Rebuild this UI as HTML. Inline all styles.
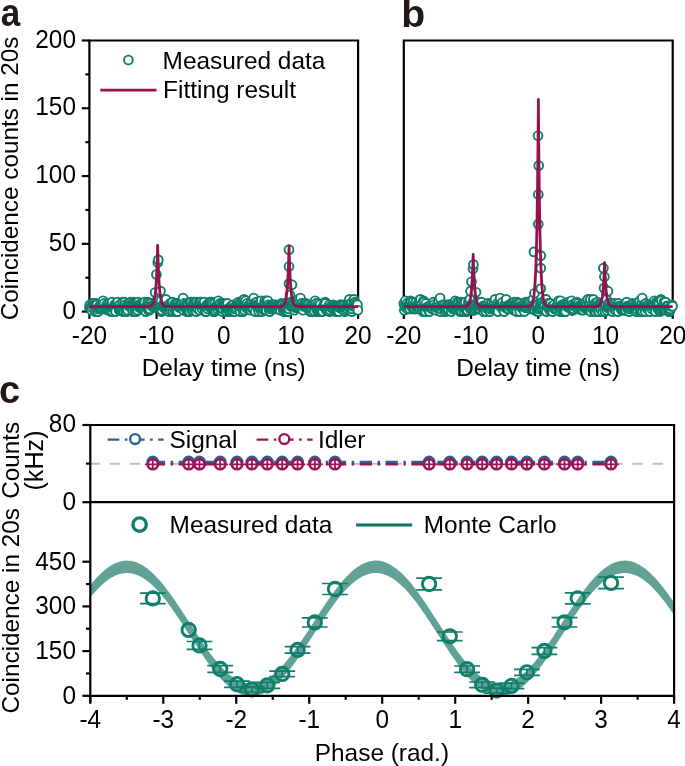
<!DOCTYPE html>
<html><head><meta charset="utf-8"><style>
html,body{margin:0;padding:0;background:#fff;}
svg{display:block;will-change:transform;font-family:"Liberation Sans",sans-serif;}
text{font-family:"Liberation Sans",sans-serif;}
</style></head><body>
<svg width="685" height="766" viewBox="0 0 685 766">
<rect width="685" height="766" fill="#fff"/>
<line x1="81.8" y1="311.6" x2="89.4" y2="311.6" stroke="#000" stroke-width="2.2" />
<text transform="translate(76,318.6) scale(1,1.035)" text-anchor="end" font-size="24.4" fill="#000" font-weight="normal" >0</text>
<line x1="81.8" y1="243.83" x2="89.4" y2="243.83" stroke="#000" stroke-width="2.2" />
<text transform="translate(76,250.83) scale(1,1.035)" text-anchor="end" font-size="24.4" fill="#000" font-weight="normal" >50</text>
<line x1="81.8" y1="176.05" x2="89.4" y2="176.05" stroke="#000" stroke-width="2.2" />
<text transform="translate(76,183.05) scale(1,1.035)" text-anchor="end" font-size="24.4" fill="#000" font-weight="normal" >100</text>
<line x1="81.8" y1="108.28" x2="89.4" y2="108.28" stroke="#000" stroke-width="2.2" />
<text transform="translate(76,115.28) scale(1,1.035)" text-anchor="end" font-size="24.4" fill="#000" font-weight="normal" >150</text>
<line x1="81.8" y1="40.5" x2="89.4" y2="40.5" stroke="#000" stroke-width="2.2" />
<text transform="translate(76,47.5) scale(1,1.035)" text-anchor="end" font-size="24.4" fill="#000" font-weight="normal" >200</text>
<line x1="85.4" y1="277.71" x2="89.4" y2="277.71" stroke="#000" stroke-width="2.2" />
<line x1="85.4" y1="209.94" x2="89.4" y2="209.94" stroke="#000" stroke-width="2.2" />
<line x1="85.4" y1="142.16" x2="89.4" y2="142.16" stroke="#000" stroke-width="2.2" />
<line x1="85.4" y1="74.39" x2="89.4" y2="74.39" stroke="#000" stroke-width="2.2" />
<line x1="89.4" y1="311.6" x2="89.4" y2="318.9" stroke="#000" stroke-width="2.2" />
<text transform="translate(89.4,343.9) scale(1,1.035)" text-anchor="middle" font-size="24.4" fill="#000" font-weight="normal" >-20</text>
<line x1="156.58" y1="311.6" x2="156.58" y2="318.9" stroke="#000" stroke-width="2.2" />
<text transform="translate(156.58,343.9) scale(1,1.035)" text-anchor="middle" font-size="24.4" fill="#000" font-weight="normal" >-10</text>
<line x1="223.75" y1="311.6" x2="223.75" y2="318.9" stroke="#000" stroke-width="2.2" />
<text transform="translate(223.75,343.9) scale(1,1.035)" text-anchor="middle" font-size="24.4" fill="#000" font-weight="normal" >0</text>
<line x1="290.93" y1="311.6" x2="290.93" y2="318.9" stroke="#000" stroke-width="2.2" />
<text transform="translate(290.93,343.9) scale(1,1.035)" text-anchor="middle" font-size="24.4" fill="#000" font-weight="normal" >10</text>
<line x1="358.1" y1="311.6" x2="358.1" y2="318.9" stroke="#000" stroke-width="2.2" />
<text transform="translate(358.1,343.9) scale(1,1.035)" text-anchor="middle" font-size="24.4" fill="#000" font-weight="normal" >20</text>
<line x1="122.99" y1="311.6" x2="122.99" y2="315.8" stroke="#000" stroke-width="2.2" />
<line x1="190.16" y1="311.6" x2="190.16" y2="315.8" stroke="#000" stroke-width="2.2" />
<line x1="257.34" y1="311.6" x2="257.34" y2="315.8" stroke="#000" stroke-width="2.2" />
<line x1="324.51" y1="311.6" x2="324.51" y2="315.8" stroke="#000" stroke-width="2.2" />
<path d="M89.4 311.6 V40.5 H358.1 V311.6 Z" fill="none" stroke="#000" stroke-width="2.2"/>
<text transform="translate(223.75,375.6) scale(1,1.0)" text-anchor="middle" font-size="24.4" fill="#000" font-weight="normal" >Delay time (ns)</text>
<g fill="#fff" stroke="#0f7f6b" stroke-width="1.9"><circle cx="89.4" cy="307.53" r="4.4"/><circle cx="89.9" cy="304.82" r="4.4"/><circle cx="90.41" cy="307.53" r="4.4"/><circle cx="90.91" cy="307.53" r="4.4"/><circle cx="91.42" cy="310.24" r="4.4"/><circle cx="91.92" cy="307.53" r="4.4"/><circle cx="92.42" cy="303.47" r="4.4"/><circle cx="92.93" cy="304.82" r="4.4"/><circle cx="93.43" cy="303.47" r="4.4"/><circle cx="93.93" cy="306.18" r="4.4"/><circle cx="94.44" cy="304.82" r="4.4"/><circle cx="94.94" cy="306.18" r="4.4"/><circle cx="95.45" cy="311.6" r="4.4"/><circle cx="95.95" cy="303.47" r="4.4"/><circle cx="96.45" cy="304.82" r="4.4"/><circle cx="96.96" cy="304.82" r="4.4"/><circle cx="97.46" cy="311.6" r="4.4"/><circle cx="97.96" cy="311.6" r="4.4"/><circle cx="98.47" cy="308.89" r="4.4"/><circle cx="98.97" cy="307.53" r="4.4"/><circle cx="99.48" cy="306.18" r="4.4"/><circle cx="99.98" cy="307.53" r="4.4"/><circle cx="100.48" cy="304.82" r="4.4"/><circle cx="100.99" cy="308.89" r="4.4"/><circle cx="101.49" cy="306.18" r="4.4"/><circle cx="102" cy="304.82" r="4.4"/><circle cx="102.5" cy="308.89" r="4.4"/><circle cx="103" cy="300.76" r="4.4"/><circle cx="103.51" cy="304.82" r="4.4"/><circle cx="104.01" cy="303.47" r="4.4"/><circle cx="104.51" cy="308.89" r="4.4"/><circle cx="105.02" cy="308.89" r="4.4"/><circle cx="105.52" cy="307.53" r="4.4"/><circle cx="106.03" cy="307.53" r="4.4"/><circle cx="106.53" cy="304.82" r="4.4"/><circle cx="107.03" cy="306.18" r="4.4"/><circle cx="107.54" cy="307.53" r="4.4"/><circle cx="108.04" cy="310.24" r="4.4"/><circle cx="108.54" cy="308.89" r="4.4"/><circle cx="109.05" cy="303.47" r="4.4"/><circle cx="109.55" cy="308.89" r="4.4"/><circle cx="110.06" cy="306.18" r="4.4"/><circle cx="110.56" cy="304.82" r="4.4"/><circle cx="111.06" cy="311.6" r="4.4"/><circle cx="111.57" cy="306.18" r="4.4"/><circle cx="112.07" cy="302.11" r="4.4"/><circle cx="112.58" cy="311.6" r="4.4"/><circle cx="113.08" cy="307.53" r="4.4"/><circle cx="113.58" cy="307.53" r="4.4"/><circle cx="114.09" cy="308.89" r="4.4"/><circle cx="114.59" cy="304.82" r="4.4"/><circle cx="115.09" cy="307.53" r="4.4"/><circle cx="115.6" cy="311.6" r="4.4"/><circle cx="116.1" cy="303.47" r="4.4"/><circle cx="116.61" cy="304.82" r="4.4"/><circle cx="117.11" cy="303.47" r="4.4"/><circle cx="117.61" cy="302.11" r="4.4"/><circle cx="118.12" cy="306.18" r="4.4"/><circle cx="118.62" cy="306.18" r="4.4"/><circle cx="119.12" cy="310.24" r="4.4"/><circle cx="119.63" cy="304.82" r="4.4"/><circle cx="120.13" cy="308.89" r="4.4"/><circle cx="120.64" cy="307.53" r="4.4"/><circle cx="121.14" cy="310.24" r="4.4"/><circle cx="121.64" cy="310.24" r="4.4"/><circle cx="122.15" cy="308.89" r="4.4"/><circle cx="122.65" cy="302.11" r="4.4"/><circle cx="123.16" cy="311.6" r="4.4"/><circle cx="123.66" cy="311.6" r="4.4"/><circle cx="124.16" cy="306.18" r="4.4"/><circle cx="124.67" cy="302.11" r="4.4"/><circle cx="125.17" cy="304.82" r="4.4"/><circle cx="125.67" cy="311.6" r="4.4"/><circle cx="126.18" cy="311.6" r="4.4"/><circle cx="126.68" cy="306.18" r="4.4"/><circle cx="127.19" cy="308.89" r="4.4"/><circle cx="127.69" cy="310.24" r="4.4"/><circle cx="128.19" cy="303.47" r="4.4"/><circle cx="128.7" cy="303.47" r="4.4"/><circle cx="129.2" cy="306.18" r="4.4"/><circle cx="129.7" cy="306.18" r="4.4"/><circle cx="130.21" cy="304.82" r="4.4"/><circle cx="130.71" cy="302.11" r="4.4"/><circle cx="131.22" cy="304.82" r="4.4"/><circle cx="131.72" cy="304.82" r="4.4"/><circle cx="132.22" cy="304.82" r="4.4"/><circle cx="132.73" cy="311.6" r="4.4"/><circle cx="133.23" cy="302.11" r="4.4"/><circle cx="133.74" cy="303.47" r="4.4"/><circle cx="134.24" cy="304.82" r="4.4"/><circle cx="134.74" cy="311.6" r="4.4"/><circle cx="135.25" cy="308.89" r="4.4"/><circle cx="135.75" cy="303.47" r="4.4"/><circle cx="136.25" cy="311.6" r="4.4"/><circle cx="136.76" cy="307.53" r="4.4"/><circle cx="137.26" cy="303.47" r="4.4"/><circle cx="137.77" cy="310.24" r="4.4"/><circle cx="138.27" cy="302.11" r="4.4"/><circle cx="138.77" cy="304.82" r="4.4"/><circle cx="139.28" cy="307.53" r="4.4"/><circle cx="139.78" cy="306.18" r="4.4"/><circle cx="140.29" cy="304.82" r="4.4"/><circle cx="140.79" cy="306.18" r="4.4"/><circle cx="141.29" cy="303.47" r="4.4"/><circle cx="141.8" cy="308.89" r="4.4"/><circle cx="142.3" cy="307.53" r="4.4"/><circle cx="142.8" cy="303.47" r="4.4"/><circle cx="143.31" cy="306.18" r="4.4"/><circle cx="143.81" cy="308.89" r="4.4"/><circle cx="144.32" cy="303.47" r="4.4"/><circle cx="144.82" cy="302.11" r="4.4"/><circle cx="145.32" cy="307.53" r="4.4"/><circle cx="145.83" cy="311.6" r="4.4"/><circle cx="146.33" cy="307.53" r="4.4"/><circle cx="146.83" cy="307.53" r="4.4"/><circle cx="147.34" cy="307.53" r="4.4"/><circle cx="147.84" cy="302.11" r="4.4"/><circle cx="148.35" cy="310.24" r="4.4"/><circle cx="148.85" cy="303.47" r="4.4"/><circle cx="149.35" cy="310.24" r="4.4"/><circle cx="149.86" cy="308.89" r="4.4"/><circle cx="150.36" cy="304.82" r="4.4"/><circle cx="150.87" cy="303.47" r="4.4"/><circle cx="151.37" cy="303.47" r="4.4"/><circle cx="151.87" cy="306.18" r="4.4"/><circle cx="152.38" cy="306.18" r="4.4"/><circle cx="152.88" cy="306.18" r="4.4"/><circle cx="153.38" cy="304.82" r="4.4"/><circle cx="153.89" cy="307.53" r="4.4"/><circle cx="154.39" cy="306.18" r="4.4"/><circle cx="154.9" cy="304.82" r="4.4"/><circle cx="155.1" cy="292.5" r="4.4"/><circle cx="155.4" cy="306.18" r="4.4"/><circle cx="155.9" cy="304.82" r="4.4"/><circle cx="156.4" cy="274.5" r="4.4"/><circle cx="156.41" cy="304.82" r="4.4"/><circle cx="156.91" cy="300.76" r="4.4"/><circle cx="157.41" cy="306.18" r="4.4"/><circle cx="157.8" cy="262.4" r="4.4"/><circle cx="157.92" cy="307.53" r="4.4"/><circle cx="158.3" cy="259.9" r="4.4"/><circle cx="158.42" cy="307.53" r="4.4"/><circle cx="158.93" cy="306.18" r="4.4"/><circle cx="159.43" cy="303.47" r="4.4"/><circle cx="159.93" cy="307.53" r="4.4"/><circle cx="160.44" cy="306.18" r="4.4"/><circle cx="160.5" cy="291.1" r="4.4"/><circle cx="160.94" cy="300.76" r="4.4"/><circle cx="161.45" cy="311.6" r="4.4"/><circle cx="161.95" cy="310.24" r="4.4"/><circle cx="162.45" cy="306.18" r="4.4"/><circle cx="162.96" cy="304.82" r="4.4"/><circle cx="163.46" cy="306.18" r="4.4"/><circle cx="163.96" cy="307.53" r="4.4"/><circle cx="164.47" cy="304.82" r="4.4"/><circle cx="164.97" cy="306.18" r="4.4"/><circle cx="165.48" cy="308.89" r="4.4"/><circle cx="165.98" cy="299.4" r="4.4"/><circle cx="166.48" cy="306.18" r="4.4"/><circle cx="166.99" cy="308.89" r="4.4"/><circle cx="167.49" cy="307.53" r="4.4"/><circle cx="167.99" cy="307.53" r="4.4"/><circle cx="168.5" cy="307.53" r="4.4"/><circle cx="169" cy="311.6" r="4.4"/><circle cx="169.51" cy="308.89" r="4.4"/><circle cx="170.01" cy="303.47" r="4.4"/><circle cx="170.51" cy="310.24" r="4.4"/><circle cx="171.02" cy="307.53" r="4.4"/><circle cx="171.52" cy="303.47" r="4.4"/><circle cx="172.03" cy="303.47" r="4.4"/><circle cx="172.53" cy="302.11" r="4.4"/><circle cx="173.03" cy="311.6" r="4.4"/><circle cx="173.54" cy="307.53" r="4.4"/><circle cx="174.04" cy="307.53" r="4.4"/><circle cx="174.54" cy="304.82" r="4.4"/><circle cx="175.05" cy="303.47" r="4.4"/><circle cx="175.55" cy="311.6" r="4.4"/><circle cx="176.06" cy="303.47" r="4.4"/><circle cx="176.56" cy="311.6" r="4.4"/><circle cx="177.06" cy="304.82" r="4.4"/><circle cx="177.57" cy="311.6" r="4.4"/><circle cx="178.07" cy="306.18" r="4.4"/><circle cx="178.57" cy="303.47" r="4.4"/><circle cx="179.08" cy="307.53" r="4.4"/><circle cx="179.58" cy="306.18" r="4.4"/><circle cx="180.09" cy="304.82" r="4.4"/><circle cx="180.59" cy="306.18" r="4.4"/><circle cx="181.09" cy="307.53" r="4.4"/><circle cx="181.6" cy="302.11" r="4.4"/><circle cx="182.1" cy="303.47" r="4.4"/><circle cx="182.61" cy="307.53" r="4.4"/><circle cx="183.11" cy="298.05" r="4.4"/><circle cx="183.61" cy="310.24" r="4.4"/><circle cx="184.12" cy="303.47" r="4.4"/><circle cx="184.62" cy="307.53" r="4.4"/><circle cx="185.12" cy="306.18" r="4.4"/><circle cx="185.63" cy="304.82" r="4.4"/><circle cx="186.13" cy="306.18" r="4.4"/><circle cx="186.64" cy="304.82" r="4.4"/><circle cx="187.14" cy="311.6" r="4.4"/><circle cx="187.64" cy="311.6" r="4.4"/><circle cx="188.15" cy="304.82" r="4.4"/><circle cx="188.65" cy="310.24" r="4.4"/><circle cx="189.15" cy="310.24" r="4.4"/><circle cx="189.66" cy="311.6" r="4.4"/><circle cx="190.16" cy="302.11" r="4.4"/><circle cx="190.67" cy="304.82" r="4.4"/><circle cx="191.17" cy="302.11" r="4.4"/><circle cx="191.67" cy="310.24" r="4.4"/><circle cx="192.18" cy="306.18" r="4.4"/><circle cx="192.68" cy="310.24" r="4.4"/><circle cx="193.19" cy="304.82" r="4.4"/><circle cx="193.69" cy="302.11" r="4.4"/><circle cx="194.19" cy="308.89" r="4.4"/><circle cx="194.7" cy="302.11" r="4.4"/><circle cx="195.2" cy="303.47" r="4.4"/><circle cx="195.7" cy="307.53" r="4.4"/><circle cx="196.21" cy="311.6" r="4.4"/><circle cx="196.71" cy="302.11" r="4.4"/><circle cx="197.22" cy="307.53" r="4.4"/><circle cx="197.72" cy="308.89" r="4.4"/><circle cx="198.22" cy="304.82" r="4.4"/><circle cx="198.73" cy="304.82" r="4.4"/><circle cx="199.23" cy="302.11" r="4.4"/><circle cx="199.73" cy="310.24" r="4.4"/><circle cx="200.24" cy="303.47" r="4.4"/><circle cx="200.74" cy="302.11" r="4.4"/><circle cx="201.25" cy="302.11" r="4.4"/><circle cx="201.75" cy="307.53" r="4.4"/><circle cx="202.25" cy="308.89" r="4.4"/><circle cx="202.76" cy="303.47" r="4.4"/><circle cx="203.26" cy="306.18" r="4.4"/><circle cx="203.77" cy="306.18" r="4.4"/><circle cx="204.27" cy="302.11" r="4.4"/><circle cx="204.77" cy="307.53" r="4.4"/><circle cx="205.28" cy="311.6" r="4.4"/><circle cx="205.78" cy="307.53" r="4.4"/><circle cx="206.28" cy="311.6" r="4.4"/><circle cx="206.79" cy="304.82" r="4.4"/><circle cx="207.29" cy="306.18" r="4.4"/><circle cx="207.8" cy="308.89" r="4.4"/><circle cx="208.3" cy="306.18" r="4.4"/><circle cx="208.8" cy="303.47" r="4.4"/><circle cx="209.31" cy="306.18" r="4.4"/><circle cx="209.81" cy="302.11" r="4.4"/><circle cx="210.31" cy="307.53" r="4.4"/><circle cx="210.82" cy="303.47" r="4.4"/><circle cx="211.32" cy="302.11" r="4.4"/><circle cx="211.83" cy="302.11" r="4.4"/><circle cx="212.33" cy="308.89" r="4.4"/><circle cx="212.83" cy="303.47" r="4.4"/><circle cx="213.34" cy="311.6" r="4.4"/><circle cx="213.84" cy="310.24" r="4.4"/><circle cx="214.35" cy="311.6" r="4.4"/><circle cx="214.85" cy="303.47" r="4.4"/><circle cx="215.35" cy="310.24" r="4.4"/><circle cx="215.86" cy="306.18" r="4.4"/><circle cx="216.36" cy="307.53" r="4.4"/><circle cx="216.86" cy="306.18" r="4.4"/><circle cx="217.37" cy="308.89" r="4.4"/><circle cx="217.87" cy="306.18" r="4.4"/><circle cx="218.38" cy="300.76" r="4.4"/><circle cx="218.88" cy="306.18" r="4.4"/><circle cx="219.38" cy="304.82" r="4.4"/><circle cx="219.89" cy="303.47" r="4.4"/><circle cx="220.39" cy="307.53" r="4.4"/><circle cx="220.9" cy="310.24" r="4.4"/><circle cx="221.4" cy="308.89" r="4.4"/><circle cx="221.9" cy="303.47" r="4.4"/><circle cx="222.41" cy="311.6" r="4.4"/><circle cx="222.91" cy="308.89" r="4.4"/><circle cx="223.41" cy="303.47" r="4.4"/><circle cx="223.92" cy="304.82" r="4.4"/><circle cx="224.42" cy="306.18" r="4.4"/><circle cx="224.93" cy="304.82" r="4.4"/><circle cx="225.43" cy="306.18" r="4.4"/><circle cx="225.93" cy="310.24" r="4.4"/><circle cx="226.44" cy="311.6" r="4.4"/><circle cx="226.94" cy="308.89" r="4.4"/><circle cx="227.44" cy="303.47" r="4.4"/><circle cx="227.95" cy="308.89" r="4.4"/><circle cx="228.45" cy="308.89" r="4.4"/><circle cx="228.96" cy="308.89" r="4.4"/><circle cx="229.46" cy="311.6" r="4.4"/><circle cx="229.96" cy="307.53" r="4.4"/><circle cx="230.47" cy="310.24" r="4.4"/><circle cx="230.97" cy="306.18" r="4.4"/><circle cx="231.48" cy="311.6" r="4.4"/><circle cx="231.98" cy="306.18" r="4.4"/><circle cx="232.48" cy="308.89" r="4.4"/><circle cx="232.99" cy="311.6" r="4.4"/><circle cx="233.49" cy="304.82" r="4.4"/><circle cx="233.99" cy="307.53" r="4.4"/><circle cx="234.5" cy="311.6" r="4.4"/><circle cx="235" cy="308.89" r="4.4"/><circle cx="235.51" cy="306.18" r="4.4"/><circle cx="236.01" cy="307.53" r="4.4"/><circle cx="236.51" cy="304.82" r="4.4"/><circle cx="237.02" cy="304.82" r="4.4"/><circle cx="237.52" cy="304.82" r="4.4"/><circle cx="238.02" cy="306.18" r="4.4"/><circle cx="238.53" cy="302.11" r="4.4"/><circle cx="239.03" cy="304.82" r="4.4"/><circle cx="239.54" cy="304.82" r="4.4"/><circle cx="240.04" cy="311.6" r="4.4"/><circle cx="240.54" cy="303.47" r="4.4"/><circle cx="241.05" cy="302.11" r="4.4"/><circle cx="241.55" cy="307.53" r="4.4"/><circle cx="242.06" cy="307.53" r="4.4"/><circle cx="242.56" cy="300.76" r="4.4"/><circle cx="243.06" cy="311.6" r="4.4"/><circle cx="243.57" cy="304.82" r="4.4"/><circle cx="244.07" cy="299.4" r="4.4"/><circle cx="244.57" cy="310.24" r="4.4"/><circle cx="245.08" cy="304.82" r="4.4"/><circle cx="245.58" cy="300.76" r="4.4"/><circle cx="246.09" cy="307.53" r="4.4"/><circle cx="246.59" cy="304.82" r="4.4"/><circle cx="247.09" cy="303.47" r="4.4"/><circle cx="247.6" cy="308.89" r="4.4"/><circle cx="248.1" cy="307.53" r="4.4"/><circle cx="248.6" cy="306.18" r="4.4"/><circle cx="249.11" cy="304.82" r="4.4"/><circle cx="249.61" cy="306.18" r="4.4"/><circle cx="250.12" cy="307.53" r="4.4"/><circle cx="250.62" cy="310.24" r="4.4"/><circle cx="251.12" cy="307.53" r="4.4"/><circle cx="251.63" cy="303.47" r="4.4"/><circle cx="252.13" cy="306.18" r="4.4"/><circle cx="252.64" cy="308.89" r="4.4"/><circle cx="253.14" cy="308.89" r="4.4"/><circle cx="253.64" cy="298.05" r="4.4"/><circle cx="254.15" cy="303.47" r="4.4"/><circle cx="254.65" cy="304.82" r="4.4"/><circle cx="255.15" cy="311.6" r="4.4"/><circle cx="255.66" cy="304.82" r="4.4"/><circle cx="256.16" cy="304.82" r="4.4"/><circle cx="256.67" cy="302.11" r="4.4"/><circle cx="257.17" cy="304.82" r="4.4"/><circle cx="257.67" cy="307.53" r="4.4"/><circle cx="258.18" cy="304.82" r="4.4"/><circle cx="258.68" cy="311.6" r="4.4"/><circle cx="259.18" cy="303.47" r="4.4"/><circle cx="259.69" cy="306.18" r="4.4"/><circle cx="260.19" cy="308.89" r="4.4"/><circle cx="260.7" cy="302.11" r="4.4"/><circle cx="261.2" cy="300.76" r="4.4"/><circle cx="261.7" cy="311.6" r="4.4"/><circle cx="262.21" cy="308.89" r="4.4"/><circle cx="262.71" cy="306.18" r="4.4"/><circle cx="263.22" cy="306.18" r="4.4"/><circle cx="263.72" cy="307.53" r="4.4"/><circle cx="264.22" cy="310.24" r="4.4"/><circle cx="264.73" cy="300.76" r="4.4"/><circle cx="265.23" cy="303.47" r="4.4"/><circle cx="265.73" cy="310.24" r="4.4"/><circle cx="266.24" cy="310.24" r="4.4"/><circle cx="266.74" cy="300.76" r="4.4"/><circle cx="267.25" cy="303.47" r="4.4"/><circle cx="267.75" cy="300.76" r="4.4"/><circle cx="268.25" cy="304.82" r="4.4"/><circle cx="268.76" cy="308.89" r="4.4"/><circle cx="269.26" cy="306.18" r="4.4"/><circle cx="269.76" cy="311.6" r="4.4"/><circle cx="270.27" cy="308.89" r="4.4"/><circle cx="270.77" cy="307.53" r="4.4"/><circle cx="271.28" cy="304.82" r="4.4"/><circle cx="271.78" cy="308.89" r="4.4"/><circle cx="272.28" cy="307.53" r="4.4"/><circle cx="272.79" cy="304.82" r="4.4"/><circle cx="273.29" cy="306.18" r="4.4"/><circle cx="273.8" cy="304.82" r="4.4"/><circle cx="274.3" cy="306.18" r="4.4"/><circle cx="274.8" cy="307.53" r="4.4"/><circle cx="275.31" cy="304.82" r="4.4"/><circle cx="275.81" cy="306.18" r="4.4"/><circle cx="276.31" cy="308.89" r="4.4"/><circle cx="276.82" cy="308.89" r="4.4"/><circle cx="277.32" cy="306.18" r="4.4"/><circle cx="277.83" cy="307.53" r="4.4"/><circle cx="278.33" cy="306.18" r="4.4"/><circle cx="278.83" cy="306.18" r="4.4"/><circle cx="279.34" cy="306.18" r="4.4"/><circle cx="279.84" cy="307.53" r="4.4"/><circle cx="280.34" cy="310.24" r="4.4"/><circle cx="280.85" cy="304.82" r="4.4"/><circle cx="281.35" cy="303.47" r="4.4"/><circle cx="281.86" cy="304.82" r="4.4"/><circle cx="282.36" cy="307.53" r="4.4"/><circle cx="282.86" cy="304.82" r="4.4"/><circle cx="283.37" cy="310.24" r="4.4"/><circle cx="283.87" cy="311.6" r="4.4"/><circle cx="284.38" cy="306.18" r="4.4"/><circle cx="284.88" cy="310.24" r="4.4"/><circle cx="285.38" cy="304.82" r="4.4"/><circle cx="285.89" cy="310.24" r="4.4"/><circle cx="286.39" cy="311.6" r="4.4"/><circle cx="286.89" cy="310.24" r="4.4"/><circle cx="287.4" cy="302.11" r="4.4"/><circle cx="287.9" cy="307.53" r="4.4"/><circle cx="288.41" cy="311.6" r="4.4"/><circle cx="288.91" cy="308.89" r="4.4"/><circle cx="289" cy="249.7" r="4.4"/><circle cx="289" cy="266.5" r="4.4"/><circle cx="289" cy="283.6" r="4.4"/><circle cx="289.41" cy="304.82" r="4.4"/><circle cx="289.92" cy="304.82" r="4.4"/><circle cx="290" cy="295" r="4.4"/><circle cx="290.42" cy="306.18" r="4.4"/><circle cx="290.92" cy="302.11" r="4.4"/><circle cx="291.43" cy="304.82" r="4.4"/><circle cx="291.93" cy="306.18" r="4.4"/><circle cx="292" cy="284.8" r="4.4"/><circle cx="292.44" cy="304.82" r="4.4"/><circle cx="292.94" cy="302.11" r="4.4"/><circle cx="293.44" cy="303.47" r="4.4"/><circle cx="293.95" cy="303.47" r="4.4"/><circle cx="294.45" cy="310.24" r="4.4"/><circle cx="294.96" cy="307.53" r="4.4"/><circle cx="295.46" cy="304.82" r="4.4"/><circle cx="295.96" cy="307.53" r="4.4"/><circle cx="296.47" cy="303.47" r="4.4"/><circle cx="296.97" cy="304.82" r="4.4"/><circle cx="297.47" cy="303.47" r="4.4"/><circle cx="297.98" cy="307.53" r="4.4"/><circle cx="298.48" cy="299.4" r="4.4"/><circle cx="298.99" cy="303.47" r="4.4"/><circle cx="299.49" cy="307.53" r="4.4"/><circle cx="299.99" cy="306.18" r="4.4"/><circle cx="300.5" cy="298.05" r="4.4"/><circle cx="301" cy="307.53" r="4.4"/><circle cx="301.51" cy="303.47" r="4.4"/><circle cx="302.01" cy="303.47" r="4.4"/><circle cx="302.51" cy="306.18" r="4.4"/><circle cx="303.02" cy="310.24" r="4.4"/><circle cx="303.52" cy="306.18" r="4.4"/><circle cx="304.02" cy="306.18" r="4.4"/><circle cx="304.53" cy="303.47" r="4.4"/><circle cx="305.03" cy="304.82" r="4.4"/><circle cx="305.54" cy="306.18" r="4.4"/><circle cx="306.04" cy="303.47" r="4.4"/><circle cx="306.54" cy="304.82" r="4.4"/><circle cx="307.05" cy="306.18" r="4.4"/><circle cx="307.55" cy="306.18" r="4.4"/><circle cx="308.05" cy="307.53" r="4.4"/><circle cx="308.56" cy="304.82" r="4.4"/><circle cx="309.06" cy="310.24" r="4.4"/><circle cx="309.57" cy="308.89" r="4.4"/><circle cx="310.07" cy="306.18" r="4.4"/><circle cx="310.57" cy="311.6" r="4.4"/><circle cx="311.08" cy="307.53" r="4.4"/><circle cx="311.58" cy="311.6" r="4.4"/><circle cx="312.09" cy="308.89" r="4.4"/><circle cx="312.59" cy="304.82" r="4.4"/><circle cx="313.09" cy="304.82" r="4.4"/><circle cx="313.6" cy="307.53" r="4.4"/><circle cx="314.1" cy="307.53" r="4.4"/><circle cx="314.6" cy="311.6" r="4.4"/><circle cx="315.11" cy="300.76" r="4.4"/><circle cx="315.61" cy="304.82" r="4.4"/><circle cx="316.12" cy="303.47" r="4.4"/><circle cx="316.62" cy="308.89" r="4.4"/><circle cx="317.12" cy="307.53" r="4.4"/><circle cx="317.63" cy="311.6" r="4.4"/><circle cx="318.13" cy="304.82" r="4.4"/><circle cx="318.63" cy="303.47" r="4.4"/><circle cx="319.14" cy="311.6" r="4.4"/><circle cx="319.64" cy="307.53" r="4.4"/><circle cx="320.15" cy="304.82" r="4.4"/><circle cx="320.65" cy="311.6" r="4.4"/><circle cx="321.15" cy="311.6" r="4.4"/><circle cx="321.66" cy="310.24" r="4.4"/><circle cx="322.16" cy="308.89" r="4.4"/><circle cx="322.67" cy="311.6" r="4.4"/><circle cx="323.17" cy="306.18" r="4.4"/><circle cx="323.67" cy="306.18" r="4.4"/><circle cx="324.18" cy="304.82" r="4.4"/><circle cx="324.68" cy="304.82" r="4.4"/><circle cx="325.18" cy="302.11" r="4.4"/><circle cx="325.69" cy="303.47" r="4.4"/><circle cx="326.19" cy="310.24" r="4.4"/><circle cx="326.7" cy="308.89" r="4.4"/><circle cx="327.2" cy="310.24" r="4.4"/><circle cx="327.7" cy="310.24" r="4.4"/><circle cx="328.21" cy="307.53" r="4.4"/><circle cx="328.71" cy="306.18" r="4.4"/><circle cx="329.21" cy="304.82" r="4.4"/><circle cx="329.72" cy="311.6" r="4.4"/><circle cx="330.22" cy="310.24" r="4.4"/><circle cx="330.73" cy="306.18" r="4.4"/><circle cx="331.23" cy="307.53" r="4.4"/><circle cx="331.73" cy="307.53" r="4.4"/><circle cx="332.24" cy="307.53" r="4.4"/><circle cx="332.74" cy="308.89" r="4.4"/><circle cx="333.25" cy="304.82" r="4.4"/><circle cx="333.75" cy="306.18" r="4.4"/><circle cx="334.25" cy="307.53" r="4.4"/><circle cx="334.76" cy="308.89" r="4.4"/><circle cx="335.26" cy="307.53" r="4.4"/><circle cx="335.76" cy="311.6" r="4.4"/><circle cx="336.27" cy="310.24" r="4.4"/><circle cx="336.77" cy="306.18" r="4.4"/><circle cx="337.28" cy="311.6" r="4.4"/><circle cx="337.78" cy="306.18" r="4.4"/><circle cx="338.28" cy="306.18" r="4.4"/><circle cx="338.79" cy="311.6" r="4.4"/><circle cx="339.29" cy="307.53" r="4.4"/><circle cx="339.79" cy="307.53" r="4.4"/><circle cx="340.3" cy="304.82" r="4.4"/><circle cx="340.8" cy="304.82" r="4.4"/><circle cx="341.31" cy="306.18" r="4.4"/><circle cx="341.81" cy="308.89" r="4.4"/><circle cx="342.31" cy="307.53" r="4.4"/><circle cx="342.82" cy="307.53" r="4.4"/><circle cx="343.32" cy="304.82" r="4.4"/><circle cx="343.83" cy="306.18" r="4.4"/><circle cx="344.33" cy="308.89" r="4.4"/><circle cx="344.83" cy="311.6" r="4.4"/><circle cx="345.34" cy="307.53" r="4.4"/><circle cx="345.84" cy="308.89" r="4.4"/><circle cx="346.34" cy="310.24" r="4.4"/><circle cx="346.85" cy="307.53" r="4.4"/><circle cx="347.35" cy="308.89" r="4.4"/><circle cx="347.86" cy="306.18" r="4.4"/><circle cx="348.36" cy="304.82" r="4.4"/><circle cx="348.86" cy="307.53" r="4.4"/><circle cx="349.37" cy="299.4" r="4.4"/><circle cx="349.87" cy="307.53" r="4.4"/><circle cx="350.37" cy="303.47" r="4.4"/><circle cx="350.88" cy="306.18" r="4.4"/><circle cx="351.38" cy="303.47" r="4.4"/><circle cx="351.89" cy="311.6" r="4.4"/><circle cx="352.39" cy="308.89" r="4.4"/><circle cx="352.89" cy="306.18" r="4.4"/><circle cx="353.4" cy="304.82" r="4.4"/><circle cx="353.9" cy="299.4" r="4.4"/><circle cx="354.41" cy="306.18" r="4.4"/><circle cx="354.91" cy="302.11" r="4.4"/><circle cx="355.41" cy="304.82" r="4.4"/><circle cx="355.92" cy="303.47" r="4.4"/><circle cx="356.42" cy="304.82" r="4.4"/><circle cx="356.92" cy="307.53" r="4.4"/><circle cx="357.43" cy="304.82" r="4.4"/><circle cx="357.93" cy="310.24" r="4.4"/></g>
<path d="M89.4 306.72 L90.07 306.72 L90.74 306.72 L91.42 306.72 L92.09 306.72 L92.76 306.72 L93.43 306.72 L94.1 306.72 L94.77 306.72 L95.45 306.72 L96.12 306.72 L96.79 306.72 L97.46 306.72 L98.13 306.72 L98.8 306.72 L99.48 306.72 L100.15 306.72 L100.82 306.72 L101.49 306.72 L102.16 306.72 L102.84 306.72 L103.51 306.72 L104.18 306.72 L104.85 306.72 L105.52 306.72 L106.19 306.72 L106.87 306.72 L107.54 306.72 L108.21 306.72 L108.88 306.72 L109.55 306.72 L110.22 306.72 L110.9 306.72 L111.57 306.72 L112.24 306.72 L112.91 306.72 L113.58 306.72 L114.25 306.72 L114.93 306.72 L115.6 306.72 L116.27 306.72 L116.94 306.72 L117.61 306.72 L118.29 306.72 L118.96 306.72 L119.63 306.72 L120.3 306.72 L120.97 306.72 L121.64 306.72 L122.32 306.72 L122.99 306.72 L123.66 306.72 L124.33 306.72 L125 306.72 L125.67 306.72 L126.35 306.72 L127.02 306.72 L127.69 306.72 L128.36 306.72 L129.03 306.72 L129.71 306.72 L130.38 306.72 L131.05 306.72 L131.72 306.72 L132.39 306.72 L133.06 306.72 L133.74 306.72 L134.41 306.72 L135.08 306.72 L135.75 306.72 L136.42 306.72 L137.09 306.72 L137.77 306.72 L138.44 306.72 L139.11 306.72 L139.78 306.72 L140.45 306.72 L141.12 306.72 L141.8 306.72 L142.47 306.72 L143.14 306.72 L143.81 306.71 L144.48 306.71 L145.16 306.7 L145.83 306.69 L146.5 306.68 L147.17 306.65 L147.57 306.63 L147.64 306.63 L147.71 306.62 L147.78 306.62 L147.84 306.61 L147.91 306.61 L147.98 306.6 L148.04 306.6 L148.11 306.59 L148.18 306.59 L148.25 306.58 L148.31 306.57 L148.38 306.57 L148.45 306.56 L148.51 306.55 L148.58 306.55 L148.65 306.54 L148.72 306.53 L148.78 306.52 L148.85 306.51 L148.92 306.51 L148.98 306.5 L149.05 306.49 L149.12 306.48 L149.19 306.46 L149.25 306.45 L149.32 306.44 L149.39 306.43 L149.45 306.42 L149.52 306.4 L149.59 306.39 L149.66 306.37 L149.72 306.36 L149.79 306.34 L149.86 306.32 L149.92 306.31 L149.99 306.29 L150.06 306.27 L150.13 306.25 L150.19 306.23 L150.26 306.21 L150.33 306.18 L150.39 306.16 L150.46 306.14 L150.53 306.11 L150.6 306.08 L150.66 306.05 L150.73 306.02 L150.8 305.99 L150.87 305.96 L150.93 305.93 L151 305.89 L151.07 305.86 L151.13 305.82 L151.2 305.78 L151.27 305.74 L151.34 305.69 L151.4 305.65 L151.47 305.6 L151.54 305.55 L151.6 305.5 L151.67 305.44 L151.74 305.38 L151.81 305.33 L151.87 305.26 L151.94 305.2 L152.01 305.13 L152.07 305.06 L152.14 304.99 L152.21 304.91 L152.28 304.83 L152.34 304.75 L152.41 304.66 L152.48 304.57 L152.54 304.47 L152.61 304.37 L152.68 304.27 L152.75 304.16 L152.81 304.04 L152.88 303.92 L152.95 303.8 L153.01 303.67 L153.08 303.53 L153.15 303.39 L153.22 303.24 L153.28 303.09 L153.35 302.93 L153.42 302.76 L153.48 302.58 L153.55 302.4 L153.62 302.21 L153.69 302.01 L153.75 301.8 L153.82 301.58 L153.89 301.35 L153.96 301.11 L154.02 300.86 L154.09 300.6 L154.16 300.33 L154.22 300.05 L154.29 299.75 L154.36 299.44 L154.43 299.12 L154.49 298.78 L154.56 298.43 L154.63 298.06 L154.69 297.68 L154.76 297.27 L154.83 296.85 L154.9 296.41 L154.96 295.96 L155.03 295.48 L155.1 294.98 L155.16 294.46 L155.23 293.91 L155.3 293.34 L155.37 292.75 L155.43 292.13 L155.5 291.48 L155.57 290.8 L155.63 290.09 L155.7 289.36 L155.77 288.58 L155.84 287.78 L155.9 286.94 L155.97 286.06 L156.04 285.14 L156.1 284.18 L156.17 283.18 L156.24 282.13 L156.31 281.04 L156.37 279.9 L156.44 278.71 L156.51 277.46 L156.58 276.16 L156.64 274.8 L156.71 273.39 L156.78 271.91 L156.84 270.36 L156.91 268.74 L156.98 267.05 L157.05 265.29 L157.11 263.45 L157.18 261.53 L157.25 259.52 L157.31 257.42 L157.38 255.23 L157.45 252.94 L157.52 250.55 L157.58 248.06 L157.65 245.45 L157.72 248.06 L157.78 250.55 L157.85 252.94 L157.92 255.23 L157.99 257.42 L158.05 259.52 L158.12 261.53 L158.19 263.45 L158.25 265.29 L158.32 267.05 L158.39 268.74 L158.46 270.36 L158.52 271.91 L158.59 273.39 L158.66 274.8 L158.72 276.16 L158.79 277.46 L158.86 278.71 L158.93 279.9 L158.99 281.04 L159.06 282.13 L159.13 283.18 L159.19 284.18 L159.26 285.14 L159.33 286.06 L159.4 286.94 L159.46 287.78 L159.53 288.58 L159.6 289.36 L159.67 290.09 L159.73 290.8 L159.8 291.48 L159.87 292.13 L159.93 292.75 L160 293.34 L160.07 293.91 L160.14 294.46 L160.2 294.98 L160.27 295.48 L160.34 295.96 L160.4 296.41 L160.47 296.85 L160.54 297.27 L160.61 297.68 L160.67 298.06 L160.74 298.43 L160.81 298.78 L160.87 299.12 L160.94 299.44 L161.01 299.75 L161.08 300.05 L161.14 300.33 L161.21 300.6 L161.28 300.86 L161.34 301.11 L161.41 301.35 L161.48 301.58 L161.55 301.8 L161.61 302.01 L161.68 302.21 L161.75 302.4 L161.81 302.58 L161.88 302.76 L161.95 302.93 L162.02 303.09 L162.08 303.24 L162.15 303.39 L162.22 303.53 L162.28 303.67 L162.35 303.8 L162.42 303.92 L162.49 304.04 L162.55 304.16 L162.62 304.27 L162.69 304.37 L162.76 304.47 L162.82 304.57 L162.89 304.66 L162.96 304.75 L163.02 304.83 L163.09 304.91 L163.16 304.99 L163.23 305.06 L163.29 305.13 L163.36 305.2 L163.43 305.26 L163.49 305.33 L163.56 305.38 L163.63 305.44 L163.7 305.5 L163.76 305.55 L163.83 305.6 L163.9 305.65 L163.96 305.69 L164.03 305.74 L164.1 305.78 L164.17 305.82 L164.23 305.86 L164.3 305.89 L164.37 305.93 L164.43 305.96 L164.5 305.99 L164.57 306.02 L164.64 306.05 L164.7 306.08 L164.77 306.11 L164.84 306.14 L164.9 306.16 L164.97 306.18 L165.04 306.21 L165.11 306.23 L165.17 306.25 L165.24 306.27 L165.31 306.29 L165.37 306.31 L165.44 306.32 L165.51 306.34 L165.58 306.36 L165.64 306.37 L165.71 306.39 L165.78 306.4 L165.85 306.42 L165.91 306.43 L165.98 306.44 L166.05 306.45 L166.11 306.46 L166.18 306.48 L166.25 306.49 L166.32 306.5 L166.38 306.51 L166.45 306.51 L166.52 306.52 L166.58 306.53 L166.65 306.54 L166.72 306.55 L166.79 306.55 L166.85 306.56 L166.92 306.57 L166.99 306.57 L167.05 306.58 L167.12 306.59 L167.19 306.59 L167.26 306.6 L167.32 306.6 L167.39 306.61 L167.46 306.61 L167.52 306.62 L167.59 306.62 L167.66 306.63 L167.73 306.63 L167.99 306.64 L168.67 306.67 L169.34 306.69 L170.01 306.7 L170.68 306.71 L171.35 306.71 L172.03 306.71 L172.7 306.72 L173.37 306.72 L174.04 306.72 L174.71 306.72 L175.38 306.72 L176.06 306.72 L176.73 306.72 L177.4 306.72 L178.07 306.72 L178.74 306.72 L179.41 306.72 L180.09 306.72 L180.76 306.72 L181.43 306.72 L182.1 306.72 L182.77 306.72 L183.45 306.72 L184.12 306.72 L184.79 306.72 L185.46 306.72 L186.13 306.72 L186.8 306.72 L187.48 306.72 L188.15 306.72 L188.82 306.72 L189.49 306.72 L190.16 306.72 L190.83 306.72 L191.51 306.72 L192.18 306.72 L192.85 306.72 L193.52 306.72 L194.19 306.72 L194.86 306.72 L195.54 306.72 L196.21 306.72 L196.88 306.72 L197.55 306.72 L198.22 306.72 L198.9 306.72 L199.57 306.72 L200.24 306.72 L200.91 306.72 L201.58 306.72 L202.25 306.72 L202.93 306.72 L203.6 306.72 L204.27 306.72 L204.94 306.72 L205.61 306.72 L206.28 306.72 L206.96 306.72 L207.63 306.72 L208.3 306.72 L208.97 306.72 L209.64 306.72 L210.31 306.72 L210.99 306.72 L211.66 306.72 L212.33 306.72 L213 306.72 L213.67 306.72 L214.35 306.72 L215.02 306.72 L215.69 306.72 L216.36 306.72 L217.03 306.72 L217.7 306.72 L218.38 306.72 L219.05 306.72 L219.72 306.72 L220.39 306.72 L221.06 306.72 L221.73 306.72 L222.41 306.72 L223.08 306.72 L223.75 306.72 L224.42 306.72 L225.09 306.72 L225.77 306.72 L226.44 306.72 L227.11 306.72 L227.78 306.72 L228.45 306.72 L229.12 306.72 L229.8 306.72 L230.47 306.72 L231.14 306.72 L231.81 306.72 L232.48 306.72 L233.15 306.72 L233.83 306.72 L234.5 306.72 L235.17 306.72 L235.84 306.72 L236.51 306.72 L237.19 306.72 L237.86 306.72 L238.53 306.72 L239.2 306.72 L239.87 306.72 L240.54 306.72 L241.22 306.72 L241.89 306.72 L242.56 306.72 L243.23 306.72 L243.9 306.72 L244.57 306.72 L245.25 306.72 L245.92 306.72 L246.59 306.72 L247.26 306.72 L247.93 306.72 L248.6 306.72 L249.28 306.72 L249.95 306.72 L250.62 306.72 L251.29 306.72 L251.96 306.72 L252.64 306.72 L253.31 306.72 L253.98 306.72 L254.65 306.72 L255.32 306.72 L255.99 306.72 L256.67 306.72 L257.34 306.72 L258.01 306.72 L258.68 306.72 L259.35 306.72 L260.02 306.72 L260.7 306.72 L261.37 306.72 L262.04 306.72 L262.71 306.72 L263.38 306.72 L264.06 306.72 L264.73 306.72 L265.4 306.72 L266.07 306.72 L266.74 306.72 L267.41 306.72 L268.09 306.72 L268.76 306.72 L269.43 306.72 L270.1 306.72 L270.77 306.72 L271.44 306.72 L272.12 306.72 L272.79 306.72 L273.46 306.72 L274.13 306.72 L274.8 306.71 L275.47 306.71 L276.15 306.71 L276.82 306.7 L277.49 306.69 L278.16 306.67 L278.83 306.64 L278.97 306.63 L279.04 306.63 L279.1 306.62 L279.17 306.62 L279.24 306.61 L279.3 306.61 L279.37 306.6 L279.44 306.6 L279.51 306.59 L279.57 306.59 L279.64 306.58 L279.71 306.58 L279.77 306.57 L279.84 306.56 L279.91 306.56 L279.98 306.55 L280.04 306.54 L280.11 306.53 L280.18 306.53 L280.24 306.52 L280.31 306.51 L280.38 306.5 L280.45 306.49 L280.51 306.48 L280.58 306.47 L280.65 306.46 L280.71 306.44 L280.78 306.43 L280.85 306.42 L280.92 306.41 L280.98 306.39 L281.05 306.38 L281.12 306.36 L281.18 306.35 L281.25 306.33 L281.32 306.31 L281.39 306.29 L281.45 306.28 L281.52 306.26 L281.59 306.24 L281.65 306.21 L281.72 306.19 L281.79 306.17 L281.86 306.14 L281.92 306.12 L281.99 306.09 L282.06 306.06 L282.13 306.03 L282.19 306 L282.26 305.97 L282.33 305.94 L282.39 305.9 L282.46 305.87 L282.53 305.83 L282.6 305.79 L282.66 305.75 L282.73 305.71 L282.8 305.66 L282.86 305.61 L282.93 305.56 L283 305.51 L283.07 305.46 L283.13 305.4 L283.2 305.34 L283.27 305.28 L283.33 305.22 L283.4 305.15 L283.47 305.08 L283.54 305.01 L283.6 304.93 L283.67 304.85 L283.74 304.77 L283.8 304.68 L283.87 304.59 L283.94 304.5 L284.01 304.4 L284.07 304.3 L284.14 304.19 L284.21 304.08 L284.27 303.96 L284.34 303.84 L284.41 303.71 L284.48 303.58 L284.54 303.44 L284.61 303.29 L284.68 303.14 L284.74 302.98 L284.81 302.81 L284.88 302.64 L284.95 302.46 L285.01 302.27 L285.08 302.07 L285.15 301.86 L285.22 301.65 L285.28 301.42 L285.35 301.19 L285.42 300.94 L285.48 300.69 L285.55 300.42 L285.62 300.14 L285.69 299.84 L285.75 299.54 L285.82 299.22 L285.89 298.89 L285.95 298.54 L286.02 298.17 L286.09 297.8 L286.16 297.4 L286.22 296.98 L286.29 296.55 L286.36 296.1 L286.42 295.63 L286.49 295.13 L286.56 294.62 L286.63 294.08 L286.69 293.52 L286.76 292.93 L286.83 292.32 L286.89 291.68 L286.96 291.01 L287.03 290.32 L287.1 289.59 L287.16 288.83 L287.23 288.03 L287.3 287.2 L287.36 286.33 L287.43 285.43 L287.5 284.48 L287.57 283.49 L287.63 282.46 L287.7 281.38 L287.77 280.26 L287.83 279.08 L287.9 277.85 L287.97 276.57 L288.04 275.23 L288.1 273.83 L288.17 272.37 L288.24 270.84 L288.31 269.25 L288.37 267.58 L288.44 265.84 L288.51 264.03 L288.57 262.13 L288.64 260.15 L288.71 258.08 L288.78 255.92 L288.84 253.66 L288.91 251.3 L288.98 248.84 L289.04 246.26 L289.11 248.84 L289.18 251.3 L289.25 253.66 L289.31 255.92 L289.38 258.08 L289.45 260.15 L289.51 262.13 L289.58 264.03 L289.65 265.84 L289.72 267.58 L289.78 269.25 L289.85 270.84 L289.92 272.37 L289.98 273.83 L290.05 275.23 L290.12 276.57 L290.19 277.85 L290.25 279.08 L290.32 280.26 L290.39 281.38 L290.45 282.46 L290.52 283.49 L290.59 284.48 L290.66 285.43 L290.72 286.33 L290.79 287.2 L290.86 288.03 L290.93 288.83 L290.99 289.59 L291.06 290.32 L291.13 291.01 L291.19 291.68 L291.26 292.32 L291.33 292.93 L291.4 293.52 L291.46 294.08 L291.53 294.62 L291.6 295.13 L291.66 295.63 L291.73 296.1 L291.8 296.55 L291.87 296.98 L291.93 297.4 L292 297.8 L292.07 298.17 L292.13 298.54 L292.2 298.89 L292.27 299.22 L292.34 299.54 L292.4 299.84 L292.47 300.14 L292.54 300.42 L292.6 300.69 L292.67 300.94 L292.74 301.19 L292.81 301.42 L292.87 301.65 L292.94 301.86 L293.01 302.07 L293.07 302.27 L293.14 302.46 L293.21 302.64 L293.28 302.81 L293.34 302.98 L293.41 303.14 L293.48 303.29 L293.54 303.44 L293.61 303.58 L293.68 303.71 L293.75 303.84 L293.81 303.96 L293.88 304.08 L293.95 304.19 L294.02 304.3 L294.08 304.4 L294.15 304.5 L294.22 304.59 L294.28 304.68 L294.35 304.77 L294.42 304.85 L294.49 304.93 L294.55 305.01 L294.62 305.08 L294.69 305.15 L294.75 305.22 L294.82 305.28 L294.89 305.34 L294.96 305.4 L295.02 305.46 L295.09 305.51 L295.16 305.56 L295.22 305.61 L295.29 305.66 L295.36 305.71 L295.43 305.75 L295.49 305.79 L295.56 305.83 L295.63 305.87 L295.69 305.9 L295.76 305.94 L295.83 305.97 L295.9 306 L295.96 306.03 L296.03 306.06 L296.1 306.09 L296.16 306.12 L296.23 306.14 L296.3 306.17 L296.37 306.19 L296.43 306.21 L296.5 306.24 L296.57 306.26 L296.63 306.28 L296.7 306.29 L296.77 306.31 L296.84 306.33 L296.9 306.35 L296.97 306.36 L297.04 306.38 L297.11 306.39 L297.17 306.41 L297.24 306.42 L297.31 306.43 L297.37 306.44 L297.44 306.46 L297.51 306.47 L297.58 306.48 L297.64 306.49 L297.71 306.5 L297.78 306.51 L297.84 306.52 L297.91 306.53 L297.98 306.53 L298.05 306.54 L298.11 306.55 L298.18 306.56 L298.25 306.56 L298.31 306.57 L298.38 306.58 L298.45 306.58 L298.52 306.59 L298.58 306.59 L298.65 306.6 L298.72 306.6 L298.78 306.61 L298.85 306.61 L298.92 306.62 L298.99 306.62 L299.05 306.63 L299.12 306.63 L299.66 306.66 L300.33 306.68 L301 306.69 L301.67 306.7 L302.34 306.71 L303.02 306.71 L303.69 306.72 L304.36 306.72 L305.03 306.72 L305.7 306.72 L306.38 306.72 L307.05 306.72 L307.72 306.72 L308.39 306.72 L309.06 306.72 L309.73 306.72 L310.41 306.72 L311.08 306.72 L311.75 306.72 L312.42 306.72 L313.09 306.72 L313.76 306.72 L314.44 306.72 L315.11 306.72 L315.78 306.72 L316.45 306.72 L317.12 306.72 L317.8 306.72 L318.47 306.72 L319.14 306.72 L319.81 306.72 L320.48 306.72 L321.15 306.72 L321.83 306.72 L322.5 306.72 L323.17 306.72 L323.84 306.72 L324.51 306.72 L325.18 306.72 L325.86 306.72 L326.53 306.72 L327.2 306.72 L327.87 306.72 L328.54 306.72 L329.21 306.72 L329.89 306.72 L330.56 306.72 L331.23 306.72 L331.9 306.72 L332.57 306.72 L333.25 306.72 L333.92 306.72 L334.59 306.72 L335.26 306.72 L335.93 306.72 L336.6 306.72 L337.28 306.72 L337.95 306.72 L338.62 306.72 L339.29 306.72 L339.96 306.72 L340.63 306.72 L341.31 306.72 L341.98 306.72 L342.65 306.72 L343.32 306.72 L343.99 306.72 L344.67 306.72 L345.34 306.72 L346.01 306.72 L346.68 306.72 L347.35 306.72 L348.02 306.72 L348.7 306.72 L349.37 306.72 L350.04 306.72 L350.71 306.72 L351.38 306.72 L352.05 306.72 L352.73 306.72 L353.4 306.72 L354.07 306.72 L354.74 306.72 L355.41 306.72 L356.08 306.72 L356.76 306.72 L357.43 306.72 L358.1 306.72" fill="none" stroke="#96124f" stroke-width="2.8" stroke-linejoin="round"/>
<text transform="translate(0.8,25.6) scale(0.95,1.045)" text-anchor="start" font-size="37" fill="#231815" font-weight="bold" >a</text>
<line x1="403.8" y1="311.6" x2="403.8" y2="318.9" stroke="#000" stroke-width="2.2" />
<text transform="translate(403.8,343.9) scale(1,1.035)" text-anchor="middle" font-size="24.4" fill="#000" font-weight="normal" >-20</text>
<line x1="471.03" y1="311.6" x2="471.03" y2="318.9" stroke="#000" stroke-width="2.2" />
<text transform="translate(471.03,343.9) scale(1,1.035)" text-anchor="middle" font-size="24.4" fill="#000" font-weight="normal" >-10</text>
<line x1="538.25" y1="311.6" x2="538.25" y2="318.9" stroke="#000" stroke-width="2.2" />
<text transform="translate(538.25,343.9) scale(1,1.035)" text-anchor="middle" font-size="24.4" fill="#000" font-weight="normal" >0</text>
<line x1="605.48" y1="311.6" x2="605.48" y2="318.9" stroke="#000" stroke-width="2.2" />
<text transform="translate(605.48,343.9) scale(1,1.035)" text-anchor="middle" font-size="24.4" fill="#000" font-weight="normal" >10</text>
<line x1="672.7" y1="311.6" x2="672.7" y2="318.9" stroke="#000" stroke-width="2.2" />
<text transform="translate(672.7,343.9) scale(1,1.035)" text-anchor="middle" font-size="24.4" fill="#000" font-weight="normal" >20</text>
<line x1="437.41" y1="311.6" x2="437.41" y2="315.8" stroke="#000" stroke-width="2.2" />
<line x1="504.64" y1="311.6" x2="504.64" y2="315.8" stroke="#000" stroke-width="2.2" />
<line x1="571.86" y1="311.6" x2="571.86" y2="315.8" stroke="#000" stroke-width="2.2" />
<line x1="639.09" y1="311.6" x2="639.09" y2="315.8" stroke="#000" stroke-width="2.2" />
<path d="M403.8 311.6 V40.5 H672.7 V311.6 Z" fill="none" stroke="#000" stroke-width="2.2"/>
<text transform="translate(538.25,375.6) scale(1,1.0)" text-anchor="middle" font-size="24.4" fill="#000" font-weight="normal" >Delay time (ns)</text>
<g fill="#fff" stroke="#0f7f6b" stroke-width="1.9"><circle cx="403.8" cy="303.47" r="4.4"/><circle cx="404.3" cy="310.24" r="4.4"/><circle cx="404.81" cy="306.18" r="4.4"/><circle cx="405.31" cy="300.76" r="4.4"/><circle cx="405.82" cy="307.53" r="4.4"/><circle cx="406.32" cy="306.18" r="4.4"/><circle cx="406.83" cy="303.47" r="4.4"/><circle cx="407.33" cy="306.18" r="4.4"/><circle cx="407.83" cy="308.89" r="4.4"/><circle cx="408.34" cy="306.18" r="4.4"/><circle cx="408.84" cy="304.82" r="4.4"/><circle cx="409.35" cy="304.82" r="4.4"/><circle cx="409.85" cy="308.89" r="4.4"/><circle cx="410.35" cy="300.76" r="4.4"/><circle cx="410.86" cy="302.11" r="4.4"/><circle cx="411.36" cy="306.18" r="4.4"/><circle cx="411.87" cy="306.18" r="4.4"/><circle cx="412.37" cy="307.53" r="4.4"/><circle cx="412.88" cy="302.11" r="4.4"/><circle cx="413.38" cy="308.89" r="4.4"/><circle cx="413.88" cy="304.82" r="4.4"/><circle cx="414.39" cy="308.89" r="4.4"/><circle cx="414.89" cy="308.89" r="4.4"/><circle cx="415.4" cy="304.82" r="4.4"/><circle cx="415.9" cy="302.11" r="4.4"/><circle cx="416.4" cy="306.18" r="4.4"/><circle cx="416.91" cy="308.89" r="4.4"/><circle cx="417.41" cy="304.82" r="4.4"/><circle cx="417.92" cy="307.53" r="4.4"/><circle cx="418.42" cy="306.18" r="4.4"/><circle cx="418.93" cy="302.11" r="4.4"/><circle cx="419.43" cy="303.47" r="4.4"/><circle cx="419.93" cy="308.89" r="4.4"/><circle cx="420.44" cy="299.4" r="4.4"/><circle cx="420.94" cy="306.18" r="4.4"/><circle cx="421.45" cy="304.82" r="4.4"/><circle cx="421.95" cy="308.89" r="4.4"/><circle cx="422.45" cy="307.53" r="4.4"/><circle cx="422.96" cy="311.6" r="4.4"/><circle cx="423.46" cy="300.76" r="4.4"/><circle cx="423.97" cy="302.11" r="4.4"/><circle cx="424.47" cy="310.24" r="4.4"/><circle cx="424.98" cy="311.6" r="4.4"/><circle cx="425.48" cy="311.6" r="4.4"/><circle cx="425.98" cy="303.47" r="4.4"/><circle cx="426.49" cy="307.53" r="4.4"/><circle cx="426.99" cy="307.53" r="4.4"/><circle cx="427.5" cy="307.53" r="4.4"/><circle cx="428" cy="307.53" r="4.4"/><circle cx="428.51" cy="310.24" r="4.4"/><circle cx="429.01" cy="306.18" r="4.4"/><circle cx="429.51" cy="311.6" r="4.4"/><circle cx="430.02" cy="307.53" r="4.4"/><circle cx="430.52" cy="306.18" r="4.4"/><circle cx="431.03" cy="304.82" r="4.4"/><circle cx="431.53" cy="307.53" r="4.4"/><circle cx="432.03" cy="308.89" r="4.4"/><circle cx="432.54" cy="306.18" r="4.4"/><circle cx="433.04" cy="308.89" r="4.4"/><circle cx="433.55" cy="302.11" r="4.4"/><circle cx="434.05" cy="304.82" r="4.4"/><circle cx="434.56" cy="307.53" r="4.4"/><circle cx="435.06" cy="307.53" r="4.4"/><circle cx="435.56" cy="308.89" r="4.4"/><circle cx="436.07" cy="310.24" r="4.4"/><circle cx="436.57" cy="307.53" r="4.4"/><circle cx="437.08" cy="306.18" r="4.4"/><circle cx="437.58" cy="304.82" r="4.4"/><circle cx="438.08" cy="304.82" r="4.4"/><circle cx="438.59" cy="300.76" r="4.4"/><circle cx="439.09" cy="308.89" r="4.4"/><circle cx="439.6" cy="306.18" r="4.4"/><circle cx="440.1" cy="298.05" r="4.4"/><circle cx="440.61" cy="311.6" r="4.4"/><circle cx="441.11" cy="308.89" r="4.4"/><circle cx="441.61" cy="306.18" r="4.4"/><circle cx="442.12" cy="306.18" r="4.4"/><circle cx="442.62" cy="304.82" r="4.4"/><circle cx="443.13" cy="307.53" r="4.4"/><circle cx="443.63" cy="306.18" r="4.4"/><circle cx="444.13" cy="306.18" r="4.4"/><circle cx="444.64" cy="304.82" r="4.4"/><circle cx="445.14" cy="311.6" r="4.4"/><circle cx="445.65" cy="308.89" r="4.4"/><circle cx="446.15" cy="306.18" r="4.4"/><circle cx="446.66" cy="310.24" r="4.4"/><circle cx="447.16" cy="310.24" r="4.4"/><circle cx="447.66" cy="304.82" r="4.4"/><circle cx="448.17" cy="308.89" r="4.4"/><circle cx="448.67" cy="304.82" r="4.4"/><circle cx="449.18" cy="304.82" r="4.4"/><circle cx="449.68" cy="306.18" r="4.4"/><circle cx="450.19" cy="304.82" r="4.4"/><circle cx="450.69" cy="307.53" r="4.4"/><circle cx="451.19" cy="311.6" r="4.4"/><circle cx="451.7" cy="306.18" r="4.4"/><circle cx="452.2" cy="304.82" r="4.4"/><circle cx="452.71" cy="308.89" r="4.4"/><circle cx="453.21" cy="307.53" r="4.4"/><circle cx="453.71" cy="304.82" r="4.4"/><circle cx="454.22" cy="308.89" r="4.4"/><circle cx="454.72" cy="304.82" r="4.4"/><circle cx="455.23" cy="300.76" r="4.4"/><circle cx="455.73" cy="308.89" r="4.4"/><circle cx="456.24" cy="306.18" r="4.4"/><circle cx="456.74" cy="307.53" r="4.4"/><circle cx="457.24" cy="302.11" r="4.4"/><circle cx="457.75" cy="306.18" r="4.4"/><circle cx="458.25" cy="303.47" r="4.4"/><circle cx="458.76" cy="308.89" r="4.4"/><circle cx="459.26" cy="306.18" r="4.4"/><circle cx="459.76" cy="306.18" r="4.4"/><circle cx="460.27" cy="311.6" r="4.4"/><circle cx="460.77" cy="302.11" r="4.4"/><circle cx="461.28" cy="303.47" r="4.4"/><circle cx="461.78" cy="311.6" r="4.4"/><circle cx="462.29" cy="304.82" r="4.4"/><circle cx="462.79" cy="307.53" r="4.4"/><circle cx="463.29" cy="304.82" r="4.4"/><circle cx="463.8" cy="306.18" r="4.4"/><circle cx="464.3" cy="311.6" r="4.4"/><circle cx="464.81" cy="307.53" r="4.4"/><circle cx="465.31" cy="302.11" r="4.4"/><circle cx="465.82" cy="308.89" r="4.4"/><circle cx="466.32" cy="310.24" r="4.4"/><circle cx="466.82" cy="311.6" r="4.4"/><circle cx="467.33" cy="310.24" r="4.4"/><circle cx="467.83" cy="306.18" r="4.4"/><circle cx="468.34" cy="302.11" r="4.4"/><circle cx="468.84" cy="304.82" r="4.4"/><circle cx="469.34" cy="306.18" r="4.4"/><circle cx="469.85" cy="299.4" r="4.4"/><circle cx="470.35" cy="308.89" r="4.4"/><circle cx="470.5" cy="291.2" r="4.4"/><circle cx="470.86" cy="308.89" r="4.4"/><circle cx="471.36" cy="304.82" r="4.4"/><circle cx="471.5" cy="281.8" r="4.4"/><circle cx="471.87" cy="304.82" r="4.4"/><circle cx="472.37" cy="310.24" r="4.4"/><circle cx="472.87" cy="310.24" r="4.4"/><circle cx="473" cy="268.7" r="4.4"/><circle cx="473.38" cy="306.18" r="4.4"/><circle cx="473.4" cy="264.6" r="4.4"/><circle cx="473.88" cy="306.18" r="4.4"/><circle cx="474.39" cy="310.24" r="4.4"/><circle cx="474.89" cy="307.53" r="4.4"/><circle cx="475.39" cy="308.89" r="4.4"/><circle cx="475.9" cy="304.82" r="4.4"/><circle cx="476" cy="292.3" r="4.4"/><circle cx="476.4" cy="307.53" r="4.4"/><circle cx="476.91" cy="307.53" r="4.4"/><circle cx="477.41" cy="307.53" r="4.4"/><circle cx="477.92" cy="303.47" r="4.4"/><circle cx="478.42" cy="302.11" r="4.4"/><circle cx="478.92" cy="307.53" r="4.4"/><circle cx="479.43" cy="303.47" r="4.4"/><circle cx="479.93" cy="308.89" r="4.4"/><circle cx="480.44" cy="306.18" r="4.4"/><circle cx="480.94" cy="304.82" r="4.4"/><circle cx="481.44" cy="302.11" r="4.4"/><circle cx="481.95" cy="307.53" r="4.4"/><circle cx="482.45" cy="307.53" r="4.4"/><circle cx="482.96" cy="306.18" r="4.4"/><circle cx="483.46" cy="311.6" r="4.4"/><circle cx="483.97" cy="306.18" r="4.4"/><circle cx="484.47" cy="308.89" r="4.4"/><circle cx="484.97" cy="306.18" r="4.4"/><circle cx="485.48" cy="310.24" r="4.4"/><circle cx="485.98" cy="311.6" r="4.4"/><circle cx="486.49" cy="306.18" r="4.4"/><circle cx="486.99" cy="306.18" r="4.4"/><circle cx="487.5" cy="308.89" r="4.4"/><circle cx="488" cy="303.47" r="4.4"/><circle cx="488.5" cy="307.53" r="4.4"/><circle cx="489.01" cy="308.89" r="4.4"/><circle cx="489.51" cy="304.82" r="4.4"/><circle cx="490.02" cy="311.6" r="4.4"/><circle cx="490.52" cy="308.89" r="4.4"/><circle cx="491.02" cy="306.18" r="4.4"/><circle cx="491.53" cy="303.47" r="4.4"/><circle cx="492.03" cy="307.53" r="4.4"/><circle cx="492.54" cy="306.18" r="4.4"/><circle cx="493.04" cy="308.89" r="4.4"/><circle cx="493.55" cy="306.18" r="4.4"/><circle cx="494.05" cy="302.11" r="4.4"/><circle cx="494.55" cy="308.89" r="4.4"/><circle cx="495.06" cy="299.4" r="4.4"/><circle cx="495.56" cy="308.89" r="4.4"/><circle cx="496.07" cy="306.18" r="4.4"/><circle cx="496.57" cy="306.18" r="4.4"/><circle cx="497.07" cy="303.47" r="4.4"/><circle cx="497.58" cy="310.24" r="4.4"/><circle cx="498.08" cy="311.6" r="4.4"/><circle cx="498.59" cy="304.82" r="4.4"/><circle cx="499.09" cy="304.82" r="4.4"/><circle cx="499.6" cy="304.82" r="4.4"/><circle cx="500.1" cy="298.05" r="4.4"/><circle cx="500.6" cy="306.18" r="4.4"/><circle cx="501.11" cy="306.18" r="4.4"/><circle cx="501.61" cy="303.47" r="4.4"/><circle cx="502.12" cy="306.18" r="4.4"/><circle cx="502.62" cy="302.11" r="4.4"/><circle cx="503.12" cy="310.24" r="4.4"/><circle cx="503.63" cy="307.53" r="4.4"/><circle cx="504.13" cy="311.6" r="4.4"/><circle cx="504.64" cy="304.82" r="4.4"/><circle cx="505.14" cy="307.53" r="4.4"/><circle cx="505.65" cy="303.47" r="4.4"/><circle cx="506.15" cy="299.4" r="4.4"/><circle cx="506.65" cy="306.18" r="4.4"/><circle cx="507.16" cy="307.53" r="4.4"/><circle cx="507.66" cy="308.89" r="4.4"/><circle cx="508.17" cy="308.89" r="4.4"/><circle cx="508.67" cy="308.89" r="4.4"/><circle cx="509.18" cy="304.82" r="4.4"/><circle cx="509.68" cy="306.18" r="4.4"/><circle cx="510.18" cy="306.18" r="4.4"/><circle cx="510.69" cy="307.53" r="4.4"/><circle cx="511.19" cy="303.47" r="4.4"/><circle cx="511.7" cy="304.82" r="4.4"/><circle cx="512.2" cy="307.53" r="4.4"/><circle cx="512.7" cy="304.82" r="4.4"/><circle cx="513.21" cy="307.53" r="4.4"/><circle cx="513.71" cy="310.24" r="4.4"/><circle cx="514.22" cy="302.11" r="4.4"/><circle cx="514.72" cy="304.82" r="4.4"/><circle cx="515.23" cy="310.24" r="4.4"/><circle cx="515.73" cy="303.47" r="4.4"/><circle cx="516.23" cy="306.18" r="4.4"/><circle cx="516.74" cy="311.6" r="4.4"/><circle cx="517.24" cy="302.11" r="4.4"/><circle cx="517.75" cy="306.18" r="4.4"/><circle cx="518.25" cy="303.47" r="4.4"/><circle cx="518.75" cy="306.18" r="4.4"/><circle cx="519.26" cy="307.53" r="4.4"/><circle cx="519.76" cy="311.6" r="4.4"/><circle cx="520.27" cy="303.47" r="4.4"/><circle cx="520.77" cy="306.18" r="4.4"/><circle cx="521.28" cy="307.53" r="4.4"/><circle cx="521.78" cy="306.18" r="4.4"/><circle cx="522.28" cy="306.18" r="4.4"/><circle cx="522.79" cy="304.82" r="4.4"/><circle cx="523.29" cy="307.53" r="4.4"/><circle cx="523.8" cy="306.18" r="4.4"/><circle cx="524.3" cy="311.6" r="4.4"/><circle cx="524.8" cy="307.53" r="4.4"/><circle cx="525.31" cy="304.82" r="4.4"/><circle cx="525.81" cy="302.11" r="4.4"/><circle cx="526.32" cy="307.53" r="4.4"/><circle cx="526.82" cy="307.53" r="4.4"/><circle cx="527.33" cy="302.11" r="4.4"/><circle cx="527.83" cy="307.53" r="4.4"/><circle cx="528.33" cy="304.82" r="4.4"/><circle cx="528.84" cy="302.11" r="4.4"/><circle cx="529.34" cy="306.18" r="4.4"/><circle cx="529.85" cy="303.47" r="4.4"/><circle cx="530.35" cy="308.89" r="4.4"/><circle cx="530.86" cy="306.18" r="4.4"/><circle cx="531.36" cy="307.53" r="4.4"/><circle cx="531.86" cy="306.18" r="4.4"/><circle cx="532.37" cy="303.47" r="4.4"/><circle cx="532.87" cy="299.4" r="4.4"/><circle cx="533.38" cy="308.89" r="4.4"/><circle cx="533.88" cy="308.89" r="4.4"/><circle cx="533.9" cy="251.9" r="4.4"/><circle cx="534.38" cy="304.82" r="4.4"/><circle cx="534.5" cy="293.3" r="4.4"/><circle cx="534.89" cy="310.24" r="4.4"/><circle cx="535.39" cy="304.82" r="4.4"/><circle cx="535.9" cy="304.82" r="4.4"/><circle cx="536.4" cy="307.53" r="4.4"/><circle cx="536.91" cy="304.82" r="4.4"/><circle cx="537.41" cy="311.6" r="4.4"/><circle cx="537.91" cy="304.82" r="4.4"/><circle cx="538" cy="135.8" r="4.4"/><circle cx="538.3" cy="194.5" r="4.4"/><circle cx="538.3" cy="224.3" r="4.4"/><circle cx="538.42" cy="311.6" r="4.4"/><circle cx="538.7" cy="165.6" r="4.4"/><circle cx="538.92" cy="308.89" r="4.4"/><circle cx="539.43" cy="308.89" r="4.4"/><circle cx="539.93" cy="307.53" r="4.4"/><circle cx="540.43" cy="303.47" r="4.4"/><circle cx="540.8" cy="255.7" r="4.4"/><circle cx="540.8" cy="268.2" r="4.4"/><circle cx="540.8" cy="288.6" r="4.4"/><circle cx="540.94" cy="306.18" r="4.4"/><circle cx="541.44" cy="307.53" r="4.4"/><circle cx="541.95" cy="304.82" r="4.4"/><circle cx="542.45" cy="302.11" r="4.4"/><circle cx="542.96" cy="306.18" r="4.4"/><circle cx="543.46" cy="306.18" r="4.4"/><circle cx="543.96" cy="303.47" r="4.4"/><circle cx="544.47" cy="306.18" r="4.4"/><circle cx="544.97" cy="310.24" r="4.4"/><circle cx="545.48" cy="299.4" r="4.4"/><circle cx="545.98" cy="299.4" r="4.4"/><circle cx="546.49" cy="311.6" r="4.4"/><circle cx="546.99" cy="306.18" r="4.4"/><circle cx="547.49" cy="304.82" r="4.4"/><circle cx="548" cy="303.47" r="4.4"/><circle cx="548.5" cy="304.82" r="4.4"/><circle cx="549.01" cy="307.53" r="4.4"/><circle cx="549.51" cy="310.24" r="4.4"/><circle cx="550.01" cy="306.18" r="4.4"/><circle cx="550.52" cy="303.47" r="4.4"/><circle cx="551.02" cy="310.24" r="4.4"/><circle cx="551.53" cy="310.24" r="4.4"/><circle cx="552.03" cy="306.18" r="4.4"/><circle cx="552.54" cy="311.6" r="4.4"/><circle cx="553.04" cy="307.53" r="4.4"/><circle cx="553.54" cy="307.53" r="4.4"/><circle cx="554.05" cy="304.82" r="4.4"/><circle cx="554.55" cy="308.89" r="4.4"/><circle cx="555.06" cy="308.89" r="4.4"/><circle cx="555.56" cy="307.53" r="4.4"/><circle cx="556.06" cy="307.53" r="4.4"/><circle cx="556.57" cy="308.89" r="4.4"/><circle cx="557.07" cy="306.18" r="4.4"/><circle cx="557.58" cy="304.82" r="4.4"/><circle cx="558.08" cy="303.47" r="4.4"/><circle cx="558.59" cy="300.76" r="4.4"/><circle cx="559.09" cy="308.89" r="4.4"/><circle cx="559.59" cy="307.53" r="4.4"/><circle cx="560.1" cy="311.6" r="4.4"/><circle cx="560.6" cy="300.76" r="4.4"/><circle cx="561.11" cy="308.89" r="4.4"/><circle cx="561.61" cy="306.18" r="4.4"/><circle cx="562.11" cy="304.82" r="4.4"/><circle cx="562.62" cy="311.6" r="4.4"/><circle cx="563.12" cy="304.82" r="4.4"/><circle cx="563.63" cy="306.18" r="4.4"/><circle cx="564.13" cy="311.6" r="4.4"/><circle cx="564.64" cy="306.18" r="4.4"/><circle cx="565.14" cy="303.47" r="4.4"/><circle cx="565.64" cy="311.6" r="4.4"/><circle cx="566.15" cy="304.82" r="4.4"/><circle cx="566.65" cy="306.18" r="4.4"/><circle cx="567.16" cy="304.82" r="4.4"/><circle cx="567.66" cy="304.82" r="4.4"/><circle cx="568.17" cy="302.11" r="4.4"/><circle cx="568.67" cy="307.53" r="4.4"/><circle cx="569.17" cy="303.47" r="4.4"/><circle cx="569.68" cy="307.53" r="4.4"/><circle cx="570.18" cy="304.82" r="4.4"/><circle cx="570.69" cy="308.89" r="4.4"/><circle cx="571.19" cy="307.53" r="4.4"/><circle cx="571.69" cy="300.76" r="4.4"/><circle cx="572.2" cy="304.82" r="4.4"/><circle cx="572.7" cy="307.53" r="4.4"/><circle cx="573.21" cy="310.24" r="4.4"/><circle cx="573.71" cy="308.89" r="4.4"/><circle cx="574.22" cy="306.18" r="4.4"/><circle cx="574.72" cy="303.47" r="4.4"/><circle cx="575.22" cy="304.82" r="4.4"/><circle cx="575.73" cy="304.82" r="4.4"/><circle cx="576.23" cy="306.18" r="4.4"/><circle cx="576.74" cy="302.11" r="4.4"/><circle cx="577.24" cy="307.53" r="4.4"/><circle cx="577.74" cy="308.89" r="4.4"/><circle cx="578.25" cy="303.47" r="4.4"/><circle cx="578.75" cy="306.18" r="4.4"/><circle cx="579.26" cy="307.53" r="4.4"/><circle cx="579.76" cy="308.89" r="4.4"/><circle cx="580.27" cy="307.53" r="4.4"/><circle cx="580.77" cy="304.82" r="4.4"/><circle cx="581.27" cy="306.18" r="4.4"/><circle cx="581.78" cy="310.24" r="4.4"/><circle cx="582.28" cy="304.82" r="4.4"/><circle cx="582.79" cy="306.18" r="4.4"/><circle cx="583.29" cy="310.24" r="4.4"/><circle cx="583.79" cy="304.82" r="4.4"/><circle cx="584.3" cy="307.53" r="4.4"/><circle cx="584.8" cy="307.53" r="4.4"/><circle cx="585.31" cy="304.82" r="4.4"/><circle cx="585.81" cy="302.11" r="4.4"/><circle cx="586.32" cy="308.89" r="4.4"/><circle cx="586.82" cy="304.82" r="4.4"/><circle cx="587.32" cy="308.89" r="4.4"/><circle cx="587.83" cy="299.4" r="4.4"/><circle cx="588.33" cy="308.89" r="4.4"/><circle cx="588.84" cy="303.47" r="4.4"/><circle cx="589.34" cy="308.89" r="4.4"/><circle cx="589.85" cy="304.82" r="4.4"/><circle cx="590.35" cy="299.4" r="4.4"/><circle cx="590.85" cy="311.6" r="4.4"/><circle cx="591.36" cy="307.53" r="4.4"/><circle cx="591.86" cy="304.82" r="4.4"/><circle cx="592.37" cy="307.53" r="4.4"/><circle cx="592.87" cy="308.89" r="4.4"/><circle cx="593.37" cy="299.4" r="4.4"/><circle cx="593.88" cy="306.18" r="4.4"/><circle cx="594.38" cy="311.6" r="4.4"/><circle cx="594.89" cy="303.47" r="4.4"/><circle cx="595.39" cy="311.6" r="4.4"/><circle cx="595.9" cy="303.47" r="4.4"/><circle cx="596.4" cy="308.89" r="4.4"/><circle cx="596.9" cy="306.18" r="4.4"/><circle cx="597.41" cy="302.11" r="4.4"/><circle cx="597.91" cy="306.18" r="4.4"/><circle cx="598.42" cy="311.6" r="4.4"/><circle cx="598.92" cy="311.6" r="4.4"/><circle cx="599.42" cy="303.47" r="4.4"/><circle cx="599.93" cy="304.82" r="4.4"/><circle cx="600.43" cy="308.89" r="4.4"/><circle cx="600.94" cy="303.47" r="4.4"/><circle cx="601.44" cy="304.82" r="4.4"/><circle cx="601.95" cy="304.82" r="4.4"/><circle cx="602.45" cy="311.6" r="4.4"/><circle cx="602.95" cy="307.53" r="4.4"/><circle cx="603.4" cy="268.2" r="4.4"/><circle cx="603.46" cy="303.47" r="4.4"/><circle cx="603.96" cy="304.82" r="4.4"/><circle cx="604" cy="288.1" r="4.4"/><circle cx="604.4" cy="276.8" r="4.4"/><circle cx="604.47" cy="303.47" r="4.4"/><circle cx="604.97" cy="311.6" r="4.4"/><circle cx="605.47" cy="306.18" r="4.4"/><circle cx="605.98" cy="304.82" r="4.4"/><circle cx="606.48" cy="299.4" r="4.4"/><circle cx="606.99" cy="310.24" r="4.4"/><circle cx="607.49" cy="307.53" r="4.4"/><circle cx="608" cy="306.18" r="4.4"/><circle cx="608" cy="291.2" r="4.4"/><circle cx="608.5" cy="303.47" r="4.4"/><circle cx="609" cy="307.53" r="4.4"/><circle cx="609.51" cy="303.47" r="4.4"/><circle cx="610.01" cy="308.89" r="4.4"/><circle cx="610.52" cy="306.18" r="4.4"/><circle cx="611.02" cy="308.89" r="4.4"/><circle cx="611.53" cy="306.18" r="4.4"/><circle cx="612.03" cy="308.89" r="4.4"/><circle cx="612.53" cy="311.6" r="4.4"/><circle cx="613.04" cy="303.47" r="4.4"/><circle cx="613.54" cy="306.18" r="4.4"/><circle cx="614.05" cy="308.89" r="4.4"/><circle cx="614.55" cy="306.18" r="4.4"/><circle cx="615.05" cy="303.47" r="4.4"/><circle cx="615.56" cy="310.24" r="4.4"/><circle cx="616.06" cy="307.53" r="4.4"/><circle cx="616.57" cy="304.82" r="4.4"/><circle cx="617.07" cy="304.82" r="4.4"/><circle cx="617.58" cy="307.53" r="4.4"/><circle cx="618.08" cy="311.6" r="4.4"/><circle cx="618.58" cy="303.47" r="4.4"/><circle cx="619.09" cy="306.18" r="4.4"/><circle cx="619.59" cy="306.18" r="4.4"/><circle cx="620.1" cy="307.53" r="4.4"/><circle cx="620.6" cy="306.18" r="4.4"/><circle cx="621.1" cy="307.53" r="4.4"/><circle cx="621.61" cy="310.24" r="4.4"/><circle cx="622.11" cy="308.89" r="4.4"/><circle cx="622.62" cy="308.89" r="4.4"/><circle cx="623.12" cy="308.89" r="4.4"/><circle cx="623.63" cy="310.24" r="4.4"/><circle cx="624.13" cy="304.82" r="4.4"/><circle cx="624.63" cy="310.24" r="4.4"/><circle cx="625.14" cy="304.82" r="4.4"/><circle cx="625.64" cy="310.24" r="4.4"/><circle cx="626.15" cy="306.18" r="4.4"/><circle cx="626.65" cy="302.11" r="4.4"/><circle cx="627.16" cy="306.18" r="4.4"/><circle cx="627.66" cy="308.89" r="4.4"/><circle cx="628.16" cy="306.18" r="4.4"/><circle cx="628.67" cy="306.18" r="4.4"/><circle cx="629.17" cy="311.6" r="4.4"/><circle cx="629.68" cy="308.89" r="4.4"/><circle cx="630.18" cy="306.18" r="4.4"/><circle cx="630.68" cy="307.53" r="4.4"/><circle cx="631.19" cy="306.18" r="4.4"/><circle cx="631.69" cy="304.82" r="4.4"/><circle cx="632.2" cy="304.82" r="4.4"/><circle cx="632.7" cy="303.47" r="4.4"/><circle cx="633.21" cy="304.82" r="4.4"/><circle cx="633.71" cy="307.53" r="4.4"/><circle cx="634.21" cy="306.18" r="4.4"/><circle cx="634.72" cy="307.53" r="4.4"/><circle cx="635.22" cy="307.53" r="4.4"/><circle cx="635.73" cy="307.53" r="4.4"/><circle cx="636.23" cy="311.6" r="4.4"/><circle cx="636.73" cy="307.53" r="4.4"/><circle cx="637.24" cy="306.18" r="4.4"/><circle cx="637.74" cy="310.24" r="4.4"/><circle cx="638.25" cy="306.18" r="4.4"/><circle cx="638.75" cy="304.82" r="4.4"/><circle cx="639.26" cy="307.53" r="4.4"/><circle cx="639.76" cy="300.76" r="4.4"/><circle cx="640.26" cy="311.6" r="4.4"/><circle cx="640.77" cy="307.53" r="4.4"/><circle cx="641.27" cy="311.6" r="4.4"/><circle cx="641.78" cy="303.47" r="4.4"/><circle cx="642.28" cy="298.05" r="4.4"/><circle cx="642.78" cy="311.6" r="4.4"/><circle cx="643.29" cy="306.18" r="4.4"/><circle cx="643.79" cy="304.82" r="4.4"/><circle cx="644.3" cy="307.53" r="4.4"/><circle cx="644.8" cy="304.82" r="4.4"/><circle cx="645.31" cy="311.6" r="4.4"/><circle cx="645.81" cy="303.47" r="4.4"/><circle cx="646.31" cy="306.18" r="4.4"/><circle cx="646.82" cy="306.18" r="4.4"/><circle cx="647.32" cy="308.89" r="4.4"/><circle cx="647.83" cy="304.82" r="4.4"/><circle cx="648.33" cy="308.89" r="4.4"/><circle cx="648.84" cy="306.18" r="4.4"/><circle cx="649.34" cy="308.89" r="4.4"/><circle cx="649.84" cy="311.6" r="4.4"/><circle cx="650.35" cy="306.18" r="4.4"/><circle cx="650.85" cy="306.18" r="4.4"/><circle cx="651.36" cy="304.82" r="4.4"/><circle cx="651.86" cy="308.89" r="4.4"/><circle cx="652.36" cy="306.18" r="4.4"/><circle cx="652.87" cy="304.82" r="4.4"/><circle cx="653.37" cy="306.18" r="4.4"/><circle cx="653.88" cy="303.47" r="4.4"/><circle cx="654.38" cy="300.76" r="4.4"/><circle cx="654.89" cy="308.89" r="4.4"/><circle cx="655.39" cy="311.6" r="4.4"/><circle cx="655.89" cy="303.47" r="4.4"/><circle cx="656.4" cy="302.11" r="4.4"/><circle cx="656.9" cy="303.47" r="4.4"/><circle cx="657.41" cy="304.82" r="4.4"/><circle cx="657.91" cy="308.89" r="4.4"/><circle cx="658.41" cy="308.89" r="4.4"/><circle cx="658.92" cy="303.47" r="4.4"/><circle cx="659.42" cy="308.89" r="4.4"/><circle cx="659.93" cy="311.6" r="4.4"/><circle cx="660.43" cy="310.24" r="4.4"/><circle cx="660.94" cy="299.4" r="4.4"/><circle cx="661.44" cy="300.76" r="4.4"/><circle cx="661.94" cy="308.89" r="4.4"/><circle cx="662.45" cy="308.89" r="4.4"/><circle cx="662.95" cy="306.18" r="4.4"/><circle cx="663.46" cy="308.89" r="4.4"/><circle cx="663.96" cy="302.11" r="4.4"/><circle cx="664.46" cy="307.53" r="4.4"/><circle cx="664.97" cy="310.24" r="4.4"/><circle cx="665.47" cy="302.11" r="4.4"/><circle cx="665.98" cy="308.89" r="4.4"/><circle cx="666.48" cy="306.18" r="4.4"/><circle cx="666.99" cy="306.18" r="4.4"/><circle cx="667.49" cy="307.53" r="4.4"/><circle cx="667.99" cy="306.18" r="4.4"/><circle cx="668.5" cy="308.89" r="4.4"/><circle cx="669" cy="311.6" r="4.4"/><circle cx="669.51" cy="311.6" r="4.4"/><circle cx="670.01" cy="310.24" r="4.4"/><circle cx="670.52" cy="308.89" r="4.4"/><circle cx="671.02" cy="306.18" r="4.4"/><circle cx="671.52" cy="306.18" r="4.4"/><circle cx="672.03" cy="304.82" r="4.4"/><circle cx="672.53" cy="306.18" r="4.4"/></g>
<path d="M403.8 306.72 L404.47 306.72 L405.14 306.72 L405.82 306.72 L406.49 306.72 L407.16 306.72 L407.83 306.72 L408.51 306.72 L409.18 306.72 L409.85 306.72 L410.52 306.72 L411.19 306.72 L411.87 306.72 L412.54 306.72 L413.21 306.72 L413.88 306.72 L414.56 306.72 L415.23 306.72 L415.9 306.72 L416.57 306.72 L417.25 306.72 L417.92 306.72 L418.59 306.72 L419.26 306.72 L419.93 306.72 L420.61 306.72 L421.28 306.72 L421.95 306.72 L422.62 306.72 L423.3 306.72 L423.97 306.72 L424.64 306.72 L425.31 306.72 L425.98 306.72 L426.66 306.72 L427.33 306.72 L428 306.72 L428.67 306.72 L429.35 306.72 L430.02 306.72 L430.69 306.72 L431.36 306.72 L432.03 306.72 L432.71 306.72 L433.38 306.72 L434.05 306.72 L434.72 306.72 L435.4 306.72 L436.07 306.72 L436.74 306.72 L437.41 306.72 L438.08 306.72 L438.76 306.72 L439.43 306.72 L440.1 306.72 L440.77 306.72 L441.45 306.72 L442.12 306.72 L442.79 306.72 L443.46 306.72 L444.13 306.72 L444.81 306.72 L445.48 306.72 L446.15 306.72 L446.82 306.72 L447.5 306.72 L448.17 306.72 L448.84 306.72 L449.51 306.72 L450.19 306.72 L450.86 306.72 L451.53 306.72 L452.2 306.72 L452.87 306.72 L453.55 306.72 L454.22 306.72 L454.89 306.72 L455.56 306.72 L456.24 306.72 L456.91 306.72 L457.58 306.72 L458.25 306.72 L458.92 306.72 L459.6 306.71 L460.27 306.71 L460.94 306.7 L461.61 306.69 L462.29 306.67 L462.96 306.65 L463.09 306.64 L463.16 306.64 L463.23 306.64 L463.29 306.63 L463.36 306.63 L463.43 306.62 L463.5 306.62 L463.56 306.62 L463.63 306.61 L463.7 306.61 L463.76 306.6 L463.83 306.6 L463.9 306.59 L463.97 306.58 L464.03 306.58 L464.1 306.57 L464.17 306.57 L464.24 306.56 L464.3 306.55 L464.37 306.54 L464.44 306.54 L464.5 306.53 L464.57 306.52 L464.64 306.51 L464.71 306.5 L464.77 306.49 L464.84 306.48 L464.91 306.47 L464.97 306.46 L465.04 306.45 L465.11 306.44 L465.18 306.42 L465.24 306.41 L465.31 306.4 L465.38 306.38 L465.45 306.37 L465.51 306.35 L465.58 306.34 L465.65 306.32 L465.71 306.3 L465.78 306.28 L465.85 306.26 L465.92 306.24 L465.98 306.22 L466.05 306.2 L466.12 306.18 L466.18 306.15 L466.25 306.13 L466.32 306.1 L466.39 306.07 L466.45 306.04 L466.52 306.01 L466.59 305.98 L466.66 305.95 L466.72 305.91 L466.79 305.88 L466.86 305.84 L466.92 305.8 L466.99 305.76 L467.06 305.72 L467.13 305.67 L467.19 305.63 L467.26 305.58 L467.33 305.53 L467.39 305.48 L467.46 305.42 L467.53 305.36 L467.6 305.3 L467.66 305.24 L467.73 305.17 L467.8 305.11 L467.87 305.03 L467.93 304.96 L468 304.88 L468.07 304.8 L468.13 304.71 L468.2 304.62 L468.27 304.53 L468.34 304.43 L468.4 304.33 L468.47 304.23 L468.54 304.12 L468.6 304 L468.67 303.88 L468.74 303.75 L468.81 303.62 L468.87 303.48 L468.94 303.34 L469.01 303.19 L469.08 303.03 L469.14 302.87 L469.21 302.7 L469.28 302.52 L469.34 302.33 L469.41 302.14 L469.48 301.93 L469.55 301.72 L469.61 301.5 L469.68 301.27 L469.75 301.02 L469.81 300.77 L469.88 300.51 L469.95 300.23 L470.02 299.94 L470.08 299.64 L470.15 299.32 L470.22 299 L470.29 298.65 L470.35 298.29 L470.42 297.92 L470.49 297.53 L470.55 297.12 L470.62 296.69 L470.69 296.25 L470.76 295.78 L470.82 295.3 L470.89 294.79 L470.96 294.26 L471.03 293.7 L471.09 293.13 L471.16 292.52 L471.23 291.89 L471.29 291.23 L471.36 290.54 L471.43 289.83 L471.5 289.07 L471.56 288.29 L471.63 287.47 L471.7 286.62 L471.76 285.72 L471.83 284.79 L471.9 283.82 L471.97 282.8 L472.03 281.73 L472.1 280.62 L472.17 279.46 L472.24 278.25 L472.3 276.99 L472.37 275.67 L472.44 274.29 L472.5 272.85 L472.57 271.34 L472.64 269.77 L472.71 268.13 L472.77 266.41 L472.84 264.62 L472.91 262.75 L472.97 260.8 L473.04 258.76 L473.11 256.62 L473.18 254.4 L473.24 256.62 L473.31 258.76 L473.38 260.8 L473.45 262.75 L473.51 264.62 L473.58 266.41 L473.65 268.13 L473.71 269.77 L473.78 271.34 L473.85 272.85 L473.92 274.29 L473.98 275.67 L474.05 276.99 L474.12 278.25 L474.18 279.46 L474.25 280.62 L474.32 281.73 L474.39 282.8 L474.45 283.82 L474.52 284.79 L474.59 285.72 L474.66 286.62 L474.72 287.47 L474.79 288.29 L474.86 289.07 L474.92 289.83 L474.99 290.54 L475.06 291.23 L475.13 291.89 L475.19 292.52 L475.26 293.13 L475.33 293.7 L475.39 294.26 L475.46 294.79 L475.53 295.3 L475.6 295.78 L475.66 296.25 L475.73 296.69 L475.8 297.12 L475.87 297.53 L475.93 297.92 L476 298.29 L476.07 298.65 L476.13 299 L476.2 299.32 L476.27 299.64 L476.34 299.94 L476.4 300.23 L476.47 300.51 L476.54 300.77 L476.6 301.02 L476.67 301.27 L476.74 301.5 L476.81 301.72 L476.87 301.93 L476.94 302.14 L477.01 302.33 L477.08 302.52 L477.14 302.7 L477.21 302.87 L477.28 303.03 L477.34 303.19 L477.41 303.34 L477.48 303.48 L477.55 303.62 L477.61 303.75 L477.68 303.88 L477.75 304 L477.81 304.12 L477.88 304.23 L477.95 304.33 L478.02 304.43 L478.08 304.53 L478.15 304.62 L478.22 304.71 L478.29 304.8 L478.35 304.88 L478.42 304.96 L478.49 305.03 L478.55 305.11 L478.62 305.17 L478.69 305.24 L478.76 305.3 L478.82 305.36 L478.89 305.42 L478.96 305.48 L479.02 305.53 L479.09 305.58 L479.16 305.63 L479.23 305.67 L479.29 305.72 L479.36 305.76 L479.43 305.8 L479.5 305.84 L479.56 305.88 L479.63 305.91 L479.7 305.95 L479.76 305.98 L479.83 306.01 L479.9 306.04 L479.97 306.07 L480.03 306.1 L480.1 306.13 L480.17 306.15 L480.23 306.18 L480.3 306.2 L480.37 306.22 L480.44 306.24 L480.5 306.26 L480.57 306.28 L480.64 306.3 L480.71 306.32 L480.77 306.34 L480.84 306.35 L480.91 306.37 L480.97 306.38 L481.04 306.4 L481.11 306.41 L481.18 306.42 L481.24 306.44 L481.31 306.45 L481.38 306.46 L481.44 306.47 L481.51 306.48 L481.58 306.49 L481.65 306.5 L481.71 306.51 L481.78 306.52 L481.85 306.53 L481.92 306.54 L481.98 306.54 L482.05 306.55 L482.12 306.56 L482.18 306.57 L482.25 306.57 L482.32 306.58 L482.39 306.58 L482.45 306.59 L482.52 306.6 L482.59 306.6 L482.65 306.61 L482.72 306.61 L482.79 306.62 L482.86 306.62 L482.92 306.62 L482.99 306.63 L483.06 306.63 L483.13 306.64 L483.19 306.64 L483.26 306.64 L483.8 306.67 L484.47 306.69 L485.14 306.7 L485.81 306.71 L486.49 306.71 L487.16 306.71 L487.83 306.72 L488.5 306.72 L489.18 306.72 L489.85 306.72 L490.52 306.72 L491.19 306.72 L491.86 306.72 L492.54 306.72 L493.21 306.72 L493.88 306.72 L494.55 306.72 L495.23 306.72 L495.9 306.72 L496.57 306.72 L497.24 306.72 L497.92 306.72 L498.59 306.72 L499.26 306.72 L499.93 306.72 L500.6 306.72 L501.28 306.72 L501.95 306.72 L502.62 306.72 L503.29 306.72 L503.97 306.72 L504.64 306.72 L505.31 306.72 L505.98 306.72 L506.65 306.72 L507.33 306.72 L508 306.72 L508.67 306.72 L509.34 306.72 L510.02 306.72 L510.69 306.72 L511.36 306.72 L512.03 306.72 L512.7 306.72 L513.38 306.72 L514.05 306.72 L514.72 306.72 L515.39 306.72 L516.07 306.72 L516.74 306.72 L517.41 306.72 L518.08 306.72 L518.75 306.72 L519.43 306.72 L520.1 306.72 L520.77 306.72 L521.44 306.72 L522.12 306.71 L522.79 306.71 L523.46 306.71 L524.13 306.7 L524.81 306.69 L525.48 306.67 L526.15 306.64 L526.82 306.6 L527.49 306.54 L528.17 306.44 L528.3 306.42 L528.37 306.4 L528.44 306.39 L528.5 306.37 L528.57 306.36 L528.64 306.34 L528.7 306.32 L528.77 306.31 L528.84 306.29 L528.91 306.27 L528.97 306.25 L529.04 306.23 L529.11 306.21 L529.17 306.18 L529.24 306.16 L529.31 306.13 L529.38 306.11 L529.44 306.08 L529.51 306.05 L529.58 306.02 L529.65 305.99 L529.71 305.96 L529.78 305.93 L529.85 305.89 L529.91 305.85 L529.98 305.82 L530.05 305.78 L530.12 305.73 L530.18 305.69 L530.25 305.64 L530.32 305.6 L530.38 305.55 L530.45 305.49 L530.52 305.44 L530.59 305.38 L530.65 305.32 L530.72 305.26 L530.79 305.2 L530.86 305.13 L530.92 305.06 L530.99 304.98 L531.06 304.91 L531.12 304.83 L531.19 304.74 L531.26 304.65 L531.33 304.56 L531.39 304.47 L531.46 304.37 L531.53 304.26 L531.59 304.15 L531.66 304.04 L531.73 303.92 L531.8 303.79 L531.86 303.66 L531.93 303.53 L532 303.39 L532.07 303.24 L532.13 303.08 L532.2 302.92 L532.27 302.75 L532.33 302.58 L532.4 302.39 L532.47 302.2 L532.54 302 L532.6 301.79 L532.67 301.57 L532.74 301.34 L532.8 301.1 L532.87 300.85 L532.94 300.59 L533.01 300.32 L533.07 300.04 L533.14 299.74 L533.21 299.43 L533.28 299.1 L533.34 298.77 L533.41 298.41 L533.48 298.04 L533.54 297.66 L533.61 297.25 L533.68 296.83 L533.75 296.39 L533.81 295.94 L533.88 295.46 L533.95 294.96 L534.01 294.43 L534.08 293.89 L534.15 293.32 L534.22 292.72 L534.28 292.1 L534.35 291.45 L534.42 290.77 L534.49 290.06 L534.55 289.32 L534.62 288.55 L534.69 287.74 L534.75 286.9 L534.82 286.02 L534.89 285.1 L534.96 284.14 L535.02 283.13 L535.09 282.09 L535.16 280.99 L535.22 279.85 L535.29 278.65 L535.36 277.41 L535.43 276.1 L535.49 274.74 L535.56 273.32 L535.63 271.84 L535.7 270.29 L535.76 268.67 L535.83 266.98 L535.9 265.21 L535.96 263.37 L536.03 261.44 L536.1 259.43 L536.17 257.33 L536.23 255.13 L536.3 252.84 L536.37 250.44 L536.43 247.94 L536.5 245.33 L536.57 242.6 L536.64 239.75 L536.7 236.78 L536.77 233.67 L536.84 230.43 L536.91 227.03 L536.97 223.49 L537.04 219.8 L537.11 215.93 L537.17 211.9 L537.24 207.68 L537.31 203.28 L537.38 198.69 L537.44 193.89 L537.51 188.87 L537.58 183.64 L537.64 178.17 L537.71 172.45 L537.78 166.49 L537.85 160.26 L537.91 153.75 L537.98 146.95 L538.05 139.85 L538.12 132.43 L538.18 124.69 L538.25 116.6 L538.32 108.15 L538.38 99.33 L538.45 108.15 L538.52 116.6 L538.59 124.69 L538.65 132.43 L538.72 139.85 L538.79 146.95 L538.86 153.75 L538.92 160.26 L538.99 166.49 L539.06 172.45 L539.12 178.17 L539.19 183.64 L539.26 188.87 L539.33 193.89 L539.39 198.69 L539.46 203.28 L539.53 207.68 L539.59 211.9 L539.66 215.93 L539.73 219.8 L539.8 223.49 L539.86 227.03 L539.93 230.43 L540 233.67 L540.07 236.78 L540.13 239.75 L540.2 242.6 L540.27 245.33 L540.33 247.94 L540.4 250.44 L540.47 252.84 L540.54 255.13 L540.6 257.33 L540.67 259.43 L540.74 261.44 L540.8 263.37 L540.87 265.21 L540.94 266.98 L541.01 268.67 L541.07 270.29 L541.14 271.84 L541.21 273.32 L541.28 274.74 L541.34 276.1 L541.41 277.41 L541.48 278.65 L541.54 279.85 L541.61 280.99 L541.68 282.09 L541.75 283.13 L541.81 284.14 L541.88 285.1 L541.95 286.02 L542.01 286.9 L542.08 287.74 L542.15 288.55 L542.22 289.32 L542.28 290.06 L542.35 290.77 L542.42 291.45 L542.49 292.1 L542.55 292.72 L542.62 293.32 L542.69 293.89 L542.75 294.43 L542.82 294.96 L542.89 295.46 L542.96 295.94 L543.02 296.39 L543.09 296.83 L543.16 297.25 L543.22 297.66 L543.29 298.04 L543.36 298.41 L543.43 298.77 L543.49 299.1 L543.56 299.43 L543.63 299.74 L543.7 300.04 L543.76 300.32 L543.83 300.59 L543.9 300.85 L543.96 301.1 L544.03 301.34 L544.1 301.57 L544.17 301.79 L544.23 302 L544.3 302.2 L544.37 302.39 L544.43 302.58 L544.5 302.75 L544.57 302.92 L544.64 303.08 L544.7 303.24 L544.77 303.39 L544.84 303.53 L544.91 303.66 L544.97 303.79 L545.04 303.92 L545.11 304.04 L545.17 304.15 L545.24 304.26 L545.31 304.37 L545.38 304.47 L545.44 304.56 L545.51 304.65 L545.58 304.74 L545.64 304.83 L545.71 304.91 L545.78 304.98 L545.85 305.06 L545.91 305.13 L545.98 305.2 L546.05 305.26 L546.12 305.32 L546.18 305.38 L546.25 305.44 L546.32 305.49 L546.38 305.55 L546.45 305.6 L546.52 305.64 L546.59 305.69 L546.65 305.73 L546.72 305.78 L546.79 305.82 L546.85 305.85 L546.92 305.89 L546.99 305.93 L547.06 305.96 L547.12 305.99 L547.19 306.02 L547.26 306.05 L547.33 306.08 L547.39 306.11 L547.46 306.13 L547.53 306.16 L547.59 306.18 L547.66 306.21 L547.73 306.23 L547.8 306.25 L547.86 306.27 L547.93 306.29 L548 306.31 L548.06 306.32 L548.13 306.34 L548.2 306.36 L548.27 306.37 L548.33 306.39 L548.4 306.4 L549.01 306.5 L549.68 306.58 L550.35 306.63 L551.02 306.66 L551.7 306.68 L552.37 306.7 L553.04 306.7 L553.71 306.71 L554.38 306.71 L555.06 306.72 L555.73 306.72 L556.4 306.72 L557.07 306.72 L557.75 306.72 L558.42 306.72 L559.09 306.72 L559.76 306.72 L560.43 306.72 L561.11 306.72 L561.78 306.72 L562.45 306.72 L563.12 306.72 L563.8 306.72 L564.47 306.72 L565.14 306.72 L565.81 306.72 L566.48 306.72 L567.16 306.72 L567.83 306.72 L568.5 306.72 L569.17 306.72 L569.85 306.72 L570.52 306.72 L571.19 306.72 L571.86 306.72 L572.53 306.72 L573.21 306.72 L573.88 306.72 L574.55 306.72 L575.22 306.72 L575.9 306.72 L576.57 306.72 L577.24 306.72 L577.91 306.72 L578.59 306.72 L579.26 306.72 L579.93 306.72 L580.6 306.72 L581.27 306.72 L581.95 306.72 L582.62 306.72 L583.29 306.72 L583.96 306.72 L584.64 306.72 L585.31 306.72 L585.98 306.72 L586.65 306.72 L587.32 306.72 L588 306.72 L588.67 306.72 L589.34 306.72 L590.01 306.72 L590.69 306.71 L591.36 306.71 L592.03 306.71 L592.7 306.7 L593.37 306.69 L594.05 306.67 L594.52 306.66 L594.58 306.65 L594.65 306.65 L594.72 306.65 L594.79 306.64 L594.85 306.64 L594.92 306.64 L594.99 306.63 L595.06 306.63 L595.12 306.62 L595.19 306.62 L595.26 306.62 L595.32 306.61 L595.39 306.61 L595.46 306.6 L595.53 306.6 L595.59 306.59 L595.66 306.58 L595.73 306.58 L595.79 306.57 L595.86 306.57 L595.93 306.56 L596 306.55 L596.06 306.54 L596.13 306.54 L596.2 306.53 L596.27 306.52 L596.33 306.51 L596.4 306.5 L596.47 306.49 L596.53 306.48 L596.6 306.47 L596.67 306.46 L596.74 306.45 L596.8 306.44 L596.87 306.42 L596.94 306.41 L597 306.4 L597.07 306.38 L597.14 306.37 L597.21 306.35 L597.27 306.33 L597.34 306.32 L597.41 306.3 L597.48 306.28 L597.54 306.26 L597.61 306.24 L597.68 306.22 L597.74 306.2 L597.81 306.17 L597.88 306.15 L597.95 306.12 L598.01 306.1 L598.08 306.07 L598.15 306.04 L598.21 306.01 L598.28 305.98 L598.35 305.95 L598.42 305.91 L598.48 305.87 L598.55 305.84 L598.62 305.8 L598.69 305.76 L598.75 305.71 L598.82 305.67 L598.89 305.62 L598.95 305.57 L599.02 305.52 L599.09 305.47 L599.16 305.41 L599.22 305.36 L599.29 305.3 L599.36 305.23 L599.42 305.17 L599.49 305.1 L599.56 305.03 L599.63 304.95 L599.69 304.87 L599.76 304.79 L599.83 304.7 L599.9 304.61 L599.96 304.52 L600.03 304.42 L600.1 304.32 L600.16 304.21 L600.23 304.1 L600.3 303.99 L600.37 303.86 L600.43 303.74 L600.5 303.6 L600.57 303.47 L600.63 303.32 L600.7 303.17 L600.77 303.01 L600.84 302.85 L600.9 302.68 L600.97 302.5 L601.04 302.31 L601.11 302.11 L601.17 301.91 L601.24 301.69 L601.31 301.47 L601.37 301.24 L601.44 300.99 L601.51 300.74 L601.58 300.47 L601.64 300.2 L601.71 299.91 L601.78 299.6 L601.84 299.29 L601.91 298.96 L601.98 298.61 L602.05 298.25 L602.11 297.88 L602.18 297.48 L602.25 297.07 L602.32 296.64 L602.38 296.2 L602.45 295.73 L602.52 295.24 L602.58 294.73 L602.65 294.2 L602.72 293.64 L602.79 293.06 L602.85 292.45 L602.92 291.82 L602.99 291.16 L603.05 290.46 L603.12 289.74 L603.19 288.99 L603.26 288.2 L603.32 287.38 L603.39 286.52 L603.46 285.62 L603.53 284.68 L603.59 283.7 L603.66 282.68 L603.73 281.61 L603.79 280.49 L603.86 279.33 L603.93 278.11 L604 276.84 L604.06 275.51 L604.13 274.13 L604.2 272.68 L604.26 271.16 L604.33 269.58 L604.4 267.93 L604.47 266.21 L604.53 264.41 L604.6 262.53 L604.67 264.41 L604.74 266.21 L604.8 267.93 L604.87 269.58 L604.94 271.16 L605 272.68 L605.07 274.13 L605.14 275.51 L605.21 276.84 L605.27 278.11 L605.34 279.33 L605.41 280.49 L605.48 281.61 L605.54 282.68 L605.61 283.7 L605.68 284.68 L605.74 285.62 L605.81 286.52 L605.88 287.38 L605.95 288.2 L606.01 288.99 L606.08 289.74 L606.15 290.46 L606.21 291.16 L606.28 291.82 L606.35 292.45 L606.42 293.06 L606.48 293.64 L606.55 294.2 L606.62 294.73 L606.69 295.24 L606.75 295.73 L606.82 296.2 L606.89 296.64 L606.95 297.07 L607.02 297.48 L607.09 297.88 L607.16 298.25 L607.22 298.61 L607.29 298.96 L607.36 299.29 L607.42 299.6 L607.49 299.91 L607.56 300.2 L607.63 300.47 L607.69 300.74 L607.76 300.99 L607.83 301.24 L607.9 301.47 L607.96 301.69 L608.03 301.91 L608.1 302.11 L608.16 302.31 L608.23 302.5 L608.3 302.68 L608.37 302.85 L608.43 303.01 L608.5 303.17 L608.57 303.32 L608.63 303.47 L608.7 303.6 L608.77 303.74 L608.84 303.86 L608.9 303.99 L608.97 304.1 L609.04 304.21 L609.11 304.32 L609.17 304.42 L609.24 304.52 L609.31 304.61 L609.37 304.7 L609.44 304.79 L609.51 304.87 L609.58 304.95 L609.64 305.03 L609.71 305.1 L609.78 305.17 L609.84 305.23 L609.91 305.3 L609.98 305.36 L610.05 305.41 L610.11 305.47 L610.18 305.52 L610.25 305.57 L610.32 305.62 L610.38 305.67 L610.45 305.71 L610.52 305.76 L610.58 305.8 L610.65 305.84 L610.72 305.87 L610.79 305.91 L610.85 305.95 L610.92 305.98 L610.99 306.01 L611.05 306.04 L611.12 306.07 L611.19 306.1 L611.26 306.12 L611.32 306.15 L611.39 306.17 L611.46 306.2 L611.53 306.22 L611.59 306.24 L611.66 306.26 L611.73 306.28 L611.79 306.3 L611.86 306.32 L611.93 306.33 L612 306.35 L612.06 306.37 L612.13 306.38 L612.2 306.4 L612.26 306.41 L612.33 306.42 L612.4 306.44 L612.47 306.45 L612.53 306.46 L612.6 306.47 L612.67 306.48 L612.74 306.49 L612.8 306.5 L612.87 306.51 L612.94 306.52 L613 306.53 L613.07 306.54 L613.14 306.54 L613.21 306.55 L613.27 306.56 L613.34 306.57 L613.41 306.57 L613.47 306.58 L613.54 306.58 L613.61 306.59 L613.68 306.6 L613.74 306.6 L613.81 306.61 L613.88 306.61 L613.95 306.62 L614.01 306.62 L614.08 306.62 L614.15 306.63 L614.21 306.63 L614.28 306.64 L614.35 306.64 L614.42 306.64 L614.48 306.65 L614.55 306.65 L614.62 306.65 L614.68 306.66 L614.89 306.66 L615.56 306.68 L616.23 306.7 L616.9 306.7 L617.58 306.71 L618.25 306.71 L618.92 306.72 L619.59 306.72 L620.26 306.72 L620.94 306.72 L621.61 306.72 L622.28 306.72 L622.95 306.72 L623.63 306.72 L624.3 306.72 L624.97 306.72 L625.64 306.72 L626.31 306.72 L626.99 306.72 L627.66 306.72 L628.33 306.72 L629 306.72 L629.68 306.72 L630.35 306.72 L631.02 306.72 L631.69 306.72 L632.37 306.72 L633.04 306.72 L633.71 306.72 L634.38 306.72 L635.05 306.72 L635.73 306.72 L636.4 306.72 L637.07 306.72 L637.74 306.72 L638.42 306.72 L639.09 306.72 L639.76 306.72 L640.43 306.72 L641.1 306.72 L641.78 306.72 L642.45 306.72 L643.12 306.72 L643.79 306.72 L644.47 306.72 L645.14 306.72 L645.81 306.72 L646.48 306.72 L647.15 306.72 L647.83 306.72 L648.5 306.72 L649.17 306.72 L649.84 306.72 L650.52 306.72 L651.19 306.72 L651.86 306.72 L652.53 306.72 L653.2 306.72 L653.88 306.72 L654.55 306.72 L655.22 306.72 L655.89 306.72 L656.57 306.72 L657.24 306.72 L657.91 306.72 L658.58 306.72 L659.25 306.72 L659.93 306.72 L660.6 306.72 L661.27 306.72 L661.94 306.72 L662.62 306.72 L663.29 306.72 L663.96 306.72 L664.63 306.72 L665.31 306.72 L665.98 306.72 L666.65 306.72 L667.32 306.72 L667.99 306.72 L668.67 306.72 L669.34 306.72 L670.01 306.72 L670.68 306.72 L671.36 306.72 L672.03 306.72 L672.7 306.72" fill="none" stroke="#96124f" stroke-width="2.8" stroke-linejoin="round"/>
<text transform="translate(401.35,26.9) scale(1.06,1.03)" text-anchor="start" font-size="37" fill="#231815" font-weight="bold" >b</text>
<line x1="100.3" y1="90.1" x2="156.5" y2="90.1" stroke="#96124f" stroke-width="2.9" />
<circle cx="128.4" cy="60" r="4.4" fill="#fff" stroke="#0f7f6b" stroke-width="1.9"/>
<text transform="translate(162.6,68.8) scale(1,1.0)" text-anchor="start" font-size="24.4" fill="#000" font-weight="normal" >Measured data</text>
<text transform="translate(163.1,98.3) scale(1,1.0)" text-anchor="start" font-size="24.4" fill="#000" font-weight="normal" >Fitting result</text>
<text transform="translate(18.4,178.4) rotate(-90)" text-anchor="middle" font-size="24.3">Coincidence counts in 20s</text>
<text transform="translate(-0.99,402.8) scale(1.025,1.05)" text-anchor="start" font-size="37" fill="#231815" font-weight="bold" >c</text>
<line x1="82.4" y1="502.2" x2="90.3" y2="502.2" stroke="#000" stroke-width="2.2" />
<text transform="translate(76,509.9) scale(1,1.035)" text-anchor="end" font-size="24.4" fill="#000" font-weight="normal" >0</text>
<line x1="82.4" y1="425" x2="90.3" y2="425" stroke="#000" stroke-width="2.2" />
<text transform="translate(76,431.5) scale(1,1.035)" text-anchor="end" font-size="24.4" fill="#000" font-weight="normal" >80</text>
<line x1="86" y1="463.6" x2="90.3" y2="463.6" stroke="#000" stroke-width="2.2" />
<line x1="82.4" y1="695.8" x2="90.3" y2="695.8" stroke="#000" stroke-width="2.2" />
<text transform="translate(76,703.8) scale(1,1.035)" text-anchor="end" font-size="24.4" fill="#000" font-weight="normal" >0</text>
<line x1="82.4" y1="651.1" x2="90.3" y2="651.1" stroke="#000" stroke-width="2.2" />
<text transform="translate(76,659.1) scale(1,1.035)" text-anchor="end" font-size="24.4" fill="#000" font-weight="normal" >150</text>
<line x1="82.4" y1="606.4" x2="90.3" y2="606.4" stroke="#000" stroke-width="2.2" />
<text transform="translate(76,614.4) scale(1,1.035)" text-anchor="end" font-size="24.4" fill="#000" font-weight="normal" >300</text>
<line x1="82.4" y1="561.7" x2="90.3" y2="561.7" stroke="#000" stroke-width="2.2" />
<text transform="translate(76,569.7) scale(1,1.035)" text-anchor="end" font-size="24.4" fill="#000" font-weight="normal" >450</text>
<line x1="86" y1="673.45" x2="90.3" y2="673.45" stroke="#000" stroke-width="2.2" />
<line x1="86" y1="628.75" x2="90.3" y2="628.75" stroke="#000" stroke-width="2.2" />
<line x1="86" y1="584.05" x2="90.3" y2="584.05" stroke="#000" stroke-width="2.2" />
<line x1="90.3" y1="695.8" x2="90.3" y2="703.8" stroke="#000" stroke-width="2.2" />
<text transform="translate(90.3,728.2) scale(1,1.035)" text-anchor="middle" font-size="24.4" fill="#000" font-weight="normal" >-4</text>
<line x1="163.28" y1="695.8" x2="163.28" y2="703.8" stroke="#000" stroke-width="2.2" />
<text transform="translate(163.28,728.2) scale(1,1.035)" text-anchor="middle" font-size="24.4" fill="#000" font-weight="normal" >-3</text>
<line x1="236.25" y1="695.8" x2="236.25" y2="703.8" stroke="#000" stroke-width="2.2" />
<text transform="translate(236.25,728.2) scale(1,1.035)" text-anchor="middle" font-size="24.4" fill="#000" font-weight="normal" >-2</text>
<line x1="309.23" y1="695.8" x2="309.23" y2="703.8" stroke="#000" stroke-width="2.2" />
<text transform="translate(309.23,728.2) scale(1,1.035)" text-anchor="middle" font-size="24.4" fill="#000" font-weight="normal" >-1</text>
<line x1="382.2" y1="695.8" x2="382.2" y2="703.8" stroke="#000" stroke-width="2.2" />
<text transform="translate(382.2,728.2) scale(1,1.035)" text-anchor="middle" font-size="24.4" fill="#000" font-weight="normal" >0</text>
<line x1="455.18" y1="695.8" x2="455.18" y2="703.8" stroke="#000" stroke-width="2.2" />
<text transform="translate(455.18,728.2) scale(1,1.035)" text-anchor="middle" font-size="24.4" fill="#000" font-weight="normal" >1</text>
<line x1="528.15" y1="695.8" x2="528.15" y2="703.8" stroke="#000" stroke-width="2.2" />
<text transform="translate(528.15,728.2) scale(1,1.035)" text-anchor="middle" font-size="24.4" fill="#000" font-weight="normal" >2</text>
<line x1="601.12" y1="695.8" x2="601.12" y2="703.8" stroke="#000" stroke-width="2.2" />
<text transform="translate(601.12,728.2) scale(1,1.035)" text-anchor="middle" font-size="24.4" fill="#000" font-weight="normal" >3</text>
<line x1="674.1" y1="695.8" x2="674.1" y2="703.8" stroke="#000" stroke-width="2.2" />
<text transform="translate(674.1,728.2) scale(1,1.035)" text-anchor="middle" font-size="24.4" fill="#000" font-weight="normal" >4</text>
<line x1="126.79" y1="695.8" x2="126.79" y2="699.8" stroke="#000" stroke-width="2.2" />
<line x1="199.76" y1="695.8" x2="199.76" y2="699.8" stroke="#000" stroke-width="2.2" />
<line x1="272.74" y1="695.8" x2="272.74" y2="699.8" stroke="#000" stroke-width="2.2" />
<line x1="345.71" y1="695.8" x2="345.71" y2="699.8" stroke="#000" stroke-width="2.2" />
<line x1="418.69" y1="695.8" x2="418.69" y2="699.8" stroke="#000" stroke-width="2.2" />
<line x1="491.66" y1="695.8" x2="491.66" y2="699.8" stroke="#000" stroke-width="2.2" />
<line x1="564.64" y1="695.8" x2="564.64" y2="699.8" stroke="#000" stroke-width="2.2" />
<line x1="637.61" y1="695.8" x2="637.61" y2="699.8" stroke="#000" stroke-width="2.2" />
<text transform="translate(381.9,761) scale(1,1.0)" text-anchor="middle" font-size="24.4" fill="#000" font-weight="normal" >Phase (rad.)</text>
<text transform="translate(18.5,460.3) rotate(-90)" text-anchor="middle" font-size="24.3">Counts</text>
<text transform="translate(43.3,460.5) rotate(-90)" text-anchor="middle" font-size="25.2">(kHz)</text>
<text transform="translate(18.5,610.8) rotate(-90)" text-anchor="middle" font-size="24.3">Coincidence in 20s</text>
<line x1="89.7" y1="463.8" x2="674.1" y2="463.8" stroke="#c0c0c0" stroke-width="2" stroke-dasharray="10.5 9.6"/>
<path d="M90.3 585.13 L91.76 583.34 L93.22 581.6 L94.68 579.92 L96.14 578.3 L97.6 576.74 L99.06 575.24 L100.52 573.8 L101.98 572.43 L103.44 571.13 L104.9 569.89 L106.35 568.73 L107.81 567.64 L109.27 566.62 L110.73 565.68 L112.19 564.82 L113.65 564.03 L115.11 563.32 L116.57 562.7 L118.03 562.15 L119.49 561.68 L120.95 561.3 L122.41 561 L123.87 560.78 L125.33 560.65 L126.79 560.6 L128.25 560.63 L129.71 560.75 L131.17 560.95 L132.63 561.24 L134.09 561.6 L135.54 562.05 L137 562.58 L138.46 563.19 L139.92 563.88 L141.38 564.65 L142.84 565.5 L144.3 566.43 L145.76 567.43 L147.22 568.51 L148.68 569.66 L150.14 570.88 L151.6 572.17 L153.06 573.52 L154.52 574.95 L155.98 576.43 L157.44 577.99 L158.9 579.6 L160.36 581.26 L161.82 582.99 L163.28 584.76 L164.73 586.59 L166.19 588.47 L167.65 590.39 L169.11 592.36 L170.57 594.36 L172.03 596.4 L173.49 598.48 L174.95 600.59 L176.41 602.73 L177.87 604.9 L179.33 607.09 L180.79 609.3 L182.25 611.53 L183.71 613.77 L185.17 616.02 L186.63 618.29 L188.09 620.55 L189.55 622.82 L191.01 625.09 L192.47 627.36 L193.92 629.62 L195.38 631.86 L196.84 634.1 L198.3 636.32 L199.76 638.52 L201.22 640.69 L202.68 642.85 L204.14 644.97 L205.6 647.06 L207.06 649.12 L208.52 651.15 L209.98 653.13 L211.44 655.07 L212.9 656.97 L214.36 658.82 L215.82 660.62 L217.28 662.37 L218.74 664.06 L220.2 665.7 L221.66 667.28 L223.11 668.79 L224.57 670.24 L226.03 671.63 L227.49 672.95 L228.95 674.2 L230.41 675.39 L231.87 676.49 L233.33 677.53 L234.79 678.49 L236.25 679.37 L237.71 680.18 L239.17 680.91 L240.63 681.55 L242.09 682.12 L243.55 682.61 L245.01 683.01 L246.47 683.33 L247.93 683.57 L249.39 683.72 L250.85 683.79 L252.3 683.78 L253.76 683.69 L255.22 683.51 L256.68 683.24 L258.14 682.9 L259.6 682.47 L261.06 681.96 L262.52 681.37 L263.98 680.7 L265.44 679.95 L266.9 679.12 L268.36 678.21 L269.82 677.23 L271.28 676.17 L272.74 675.04 L274.2 673.84 L275.66 672.56 L277.12 671.22 L278.58 669.82 L280.04 668.34 L281.49 666.81 L282.95 665.21 L284.41 663.56 L285.87 661.85 L287.33 660.08 L288.79 658.27 L290.25 656.41 L291.71 654.49 L293.17 652.54 L294.63 650.54 L296.09 648.51 L297.55 646.44 L299.01 644.34 L300.47 642.2 L301.93 640.04 L303.39 637.86 L304.85 635.65 L306.31 633.43 L307.77 631.19 L309.23 628.94 L310.68 626.68 L312.14 624.41 L313.6 622.14 L315.06 619.87 L316.52 617.61 L317.98 615.35 L319.44 613.1 L320.9 610.86 L322.36 608.64 L323.82 606.43 L325.28 604.25 L326.74 602.09 L328.2 599.96 L329.66 597.86 L331.12 595.79 L332.58 593.75 L334.04 591.76 L335.5 589.81 L336.96 587.9 L338.42 586.04 L339.87 584.23 L341.33 582.46 L342.79 580.76 L344.25 579.11 L345.71 577.51 L347.17 575.98 L348.63 574.51 L350.09 573.11 L351.55 571.77 L353.01 570.5 L354.47 569.3 L355.93 568.18 L357.39 567.12 L358.85 566.14 L360.31 565.24 L361.77 564.41 L363.23 563.67 L364.69 563 L366.15 562.41 L367.61 561.91 L369.06 561.48 L370.52 561.14 L371.98 560.88 L373.44 560.71 L374.9 560.62 L376.36 560.61 L377.82 560.68 L379.28 560.84 L380.74 561.08 L382.2 561.41 L383.66 561.82 L385.12 562.31 L386.58 562.88 L388.04 563.53 L389.5 564.26 L390.96 565.07 L392.42 565.96 L393.88 566.92 L395.34 567.96 L396.8 569.07 L398.25 570.26 L399.71 571.51 L401.17 572.84 L402.63 574.23 L404.09 575.68 L405.55 577.2 L407.01 578.78 L408.47 580.42 L409.93 582.12 L411.39 583.87 L412.85 585.67 L414.31 587.52 L415.77 589.42 L417.23 591.37 L418.69 593.35 L420.15 595.38 L421.61 597.44 L423.07 599.53 L424.53 601.66 L425.99 603.81 L427.44 605.99 L428.9 608.19 L430.36 610.41 L431.82 612.65 L433.28 614.9 L434.74 617.15 L436.2 619.42 L437.66 621.69 L439.12 623.96 L440.58 626.23 L442.04 628.49 L443.5 630.74 L444.96 632.98 L446.42 635.21 L447.88 637.42 L449.34 639.61 L450.8 641.77 L452.26 643.91 L453.72 646.02 L455.18 648.1 L456.63 650.14 L458.09 652.14 L459.55 654.11 L461.01 656.03 L462.47 657.9 L463.93 659.73 L465.39 661.5 L466.85 663.22 L468.31 664.89 L469.77 666.49 L471.23 668.04 L472.69 669.53 L474.15 670.95 L475.61 672.3 L477.07 673.59 L478.53 674.8 L479.99 675.95 L481.45 677.02 L482.91 678.02 L484.37 678.94 L485.82 679.79 L487.28 680.55 L488.74 681.24 L490.2 681.85 L491.66 682.37 L493.12 682.82 L494.58 683.18 L496.04 683.46 L497.5 683.66 L498.96 683.77 L500.42 683.8 L501.88 683.74 L503.34 683.61 L504.8 683.39 L506.26 683.08 L507.72 682.69 L509.18 682.22 L510.64 681.67 L512.1 681.04 L513.56 680.33 L515.01 679.54 L516.47 678.67 L517.93 677.73 L519.39 676.71 L520.85 675.61 L522.31 674.45 L523.77 673.21 L525.23 671.9 L526.69 670.53 L528.15 669.09 L529.61 667.58 L531.07 666.02 L532.53 664.39 L533.99 662.71 L535.45 660.97 L536.91 659.18 L538.37 657.34 L539.83 655.46 L541.29 653.52 L542.75 651.55 L544.2 649.53 L545.66 647.48 L547.12 645.39 L548.58 643.27 L550.04 641.13 L551.5 638.95 L552.96 636.76 L554.42 634.54 L555.88 632.31 L557.34 630.07 L558.8 627.81 L560.26 625.55 L561.72 623.28 L563.18 621.01 L564.64 618.74 L566.1 616.48 L567.56 614.22 L569.02 611.98 L570.48 609.74 L571.94 607.53 L573.39 605.34 L574.85 603.16 L576.31 601.02 L577.77 598.9 L579.23 596.82 L580.69 594.77 L582.15 592.75 L583.61 590.78 L585.07 588.85 L586.53 586.96 L587.99 585.13 L589.45 583.34 L590.91 581.6 L592.37 579.92 L593.83 578.3 L595.29 576.74 L596.75 575.24 L598.21 573.8 L599.67 572.43 L601.13 571.13 L602.58 569.89 L604.04 568.73 L605.5 567.64 L606.96 566.62 L608.42 565.68 L609.88 564.82 L611.34 564.03 L612.8 563.32 L614.26 562.7 L615.72 562.15 L617.18 561.68 L618.64 561.3 L620.1 561 L621.56 560.78 L623.02 560.65 L624.48 560.6 L625.94 560.63 L627.4 560.75 L628.86 560.95 L630.32 561.24 L631.77 561.6 L633.23 562.05 L634.69 562.58 L636.15 563.19 L637.61 563.88 L639.07 564.65 L640.53 565.5 L641.99 566.43 L643.45 567.43 L644.91 568.51 L646.37 569.66 L647.83 570.88 L649.29 572.17 L650.75 573.52 L652.21 574.95 L653.67 576.43 L655.13 577.99 L656.59 579.6 L658.05 581.26 L659.51 582.99 L660.96 584.76 L662.42 586.59 L663.88 588.47 L665.34 590.39 L666.8 592.36 L668.26 594.36 L669.72 596.4 L671.18 598.48 L672.64 600.59 L674.1 602.73 L674.1 615.13 L672.64 612.99 L671.18 610.88 L669.72 608.8 L668.26 606.76 L666.8 604.76 L665.34 602.79 L663.88 600.87 L662.42 598.99 L660.96 597.16 L659.51 595.39 L658.05 593.66 L656.59 592 L655.13 590.39 L653.67 588.83 L652.21 587.35 L650.75 585.92 L649.29 584.57 L647.83 583.28 L646.37 582.06 L644.91 580.91 L643.45 579.83 L641.99 578.83 L640.53 577.9 L639.07 577.05 L637.61 576.28 L636.15 575.59 L634.69 574.98 L633.23 574.45 L631.77 574 L630.32 573.64 L628.86 573.35 L627.4 573.15 L625.94 573.03 L624.48 573 L623.02 573.05 L621.56 573.18 L620.1 573.4 L618.64 573.7 L617.18 574.08 L615.72 574.55 L614.26 575.1 L612.8 575.72 L611.34 576.43 L609.88 577.22 L608.42 578.08 L606.96 579.02 L605.5 580.04 L604.04 581.13 L602.58 582.29 L601.13 583.53 L599.67 584.83 L598.21 586.2 L596.75 587.64 L595.29 589.14 L593.83 590.7 L592.37 592.32 L590.91 594 L589.45 595.74 L587.99 597.53 L586.53 599.36 L585.07 601.25 L583.61 603.18 L582.15 605.15 L580.69 607.17 L579.23 609.22 L577.77 611.3 L576.31 613.42 L574.85 615.56 L573.39 617.74 L571.94 619.93 L570.48 622.14 L569.02 624.38 L567.56 626.62 L566.1 628.88 L564.64 631.14 L563.18 633.41 L561.72 635.68 L560.26 637.95 L558.8 640.21 L557.34 642.47 L555.88 644.71 L554.42 646.94 L552.96 649.16 L551.5 651.35 L550.04 653.53 L548.58 655.67 L547.12 657.79 L545.66 659.88 L544.2 661.93 L542.75 663.95 L541.29 665.92 L539.83 667.86 L538.37 669.74 L536.91 671.58 L535.45 673.37 L533.99 675.11 L532.53 676.79 L531.07 678.42 L529.61 679.98 L528.15 681.49 L526.69 682.93 L525.23 684.3 L523.77 685.61 L522.31 686.85 L520.85 688.01 L519.39 689.11 L517.93 690.13 L516.47 691.07 L515.01 691.94 L513.56 692.73 L512.1 693.44 L510.64 694.07 L509.18 694.62 L507.72 695.09 L506.26 695.48 L504.8 695.79 L503.34 696.01 L501.88 696.14 L500.42 696.2 L498.96 696.17 L497.5 696.06 L496.04 695.86 L494.58 695.58 L493.12 695.22 L491.66 694.77 L490.2 694.25 L488.74 693.64 L487.28 692.95 L485.82 692.19 L484.37 691.34 L482.91 690.42 L481.45 689.42 L479.99 688.35 L478.53 687.2 L477.07 685.99 L475.61 684.7 L474.15 683.35 L472.69 681.93 L471.23 680.44 L469.77 678.89 L468.31 677.29 L466.85 675.62 L465.39 673.9 L463.93 672.13 L462.47 670.3 L461.01 668.43 L459.55 666.51 L458.09 664.54 L456.63 662.54 L455.18 660.5 L453.72 658.42 L452.26 656.31 L450.8 654.17 L449.34 652.01 L447.88 649.82 L446.42 647.61 L444.96 645.38 L443.5 643.14 L442.04 640.89 L440.58 638.63 L439.12 636.36 L437.66 634.09 L436.2 631.82 L434.74 629.55 L433.28 627.3 L431.82 625.05 L430.36 622.81 L428.9 620.59 L427.44 618.39 L425.99 616.21 L424.53 614.06 L423.07 611.93 L421.61 609.84 L420.15 607.78 L418.69 605.75 L417.23 603.77 L415.77 601.82 L414.31 599.92 L412.85 598.07 L411.39 596.27 L409.93 594.52 L408.47 592.82 L407.01 591.18 L405.55 589.6 L404.09 588.08 L402.63 586.63 L401.17 585.24 L399.71 583.91 L398.25 582.66 L396.8 581.47 L395.34 580.36 L393.88 579.32 L392.42 578.36 L390.96 577.47 L389.5 576.66 L388.04 575.93 L386.58 575.28 L385.12 574.71 L383.66 574.22 L382.2 573.81 L380.74 573.48 L379.28 573.24 L377.82 573.08 L376.36 573.01 L374.9 573.02 L373.44 573.11 L371.98 573.28 L370.52 573.54 L369.06 573.88 L367.61 574.31 L366.15 574.81 L364.69 575.4 L363.23 576.07 L361.77 576.81 L360.31 577.64 L358.85 578.54 L357.39 579.52 L355.93 580.58 L354.47 581.7 L353.01 582.9 L351.55 584.17 L350.09 585.51 L348.63 586.91 L347.17 588.38 L345.71 589.91 L344.25 591.51 L342.79 593.16 L341.33 594.86 L339.87 596.63 L338.42 598.44 L336.96 600.3 L335.5 602.21 L334.04 604.16 L332.58 606.15 L331.12 608.19 L329.66 610.26 L328.2 612.36 L326.74 614.49 L325.28 616.65 L323.82 618.83 L322.36 621.04 L320.9 623.26 L319.44 625.5 L317.98 627.75 L316.52 630.01 L315.06 632.27 L313.6 634.54 L312.14 636.81 L310.68 639.08 L309.23 641.34 L307.77 643.59 L306.31 645.83 L304.85 648.05 L303.39 650.26 L301.93 652.44 L300.47 654.6 L299.01 656.74 L297.55 658.84 L296.09 660.91 L294.63 662.94 L293.17 664.94 L291.71 666.89 L290.25 668.81 L288.79 670.67 L287.33 672.48 L285.87 674.25 L284.41 675.96 L282.95 677.61 L281.49 679.21 L280.04 680.74 L278.58 682.22 L277.12 683.62 L275.66 684.96 L274.2 686.24 L272.74 687.44 L271.28 688.57 L269.82 689.63 L268.36 690.61 L266.9 691.52 L265.44 692.35 L263.98 693.1 L262.52 693.77 L261.06 694.36 L259.6 694.87 L258.14 695.3 L256.68 695.64 L255.22 695.91 L253.76 696.09 L252.3 696.18 L250.85 696.19 L249.39 696.12 L247.93 695.97 L246.47 695.73 L245.01 695.41 L243.55 695.01 L242.09 694.52 L240.63 693.95 L239.17 693.31 L237.71 692.58 L236.25 691.77 L234.79 690.89 L233.33 689.93 L231.87 688.89 L230.41 687.79 L228.95 686.6 L227.49 685.35 L226.03 684.03 L224.57 682.64 L223.11 681.19 L221.66 679.68 L220.2 678.1 L218.74 676.46 L217.28 674.77 L215.82 673.02 L214.36 671.22 L212.9 669.37 L211.44 667.47 L209.98 665.53 L208.52 663.55 L207.06 661.52 L205.6 659.46 L204.14 657.37 L202.68 655.25 L201.22 653.09 L199.76 650.92 L198.3 648.72 L196.84 646.5 L195.38 644.26 L193.92 642.02 L192.47 639.76 L191.01 637.49 L189.55 635.22 L188.09 632.95 L186.63 630.69 L185.17 628.42 L183.71 626.17 L182.25 623.93 L180.79 621.7 L179.33 619.49 L177.87 617.3 L176.41 615.13 L174.95 612.99 L173.49 610.88 L172.03 608.8 L170.57 606.76 L169.11 604.76 L167.65 602.79 L166.19 600.87 L164.73 598.99 L163.28 597.16 L161.82 595.39 L160.36 593.66 L158.9 592 L157.44 590.39 L155.98 588.83 L154.52 587.35 L153.06 585.92 L151.6 584.57 L150.14 583.28 L148.68 582.06 L147.22 580.91 L145.76 579.83 L144.3 578.83 L142.84 577.9 L141.38 577.05 L139.92 576.28 L138.46 575.59 L137 574.98 L135.54 574.45 L134.09 574 L132.63 573.64 L131.17 573.35 L129.71 573.15 L128.25 573.03 L126.79 573 L125.33 573.05 L123.87 573.18 L122.41 573.4 L120.95 573.7 L119.49 574.08 L118.03 574.55 L116.57 575.1 L115.11 575.72 L113.65 576.43 L112.19 577.22 L110.73 578.08 L109.27 579.02 L107.81 580.04 L106.35 581.13 L104.9 582.29 L103.44 583.53 L101.98 584.83 L100.52 586.2 L99.06 587.64 L97.6 589.14 L96.14 590.7 L94.68 592.32 L93.22 594 L91.76 595.74 L90.3 597.53 Z" fill="#62a196"/>
<g fill="none" stroke="#0f7f6b" stroke-width="1.7"><path d="M139.9 593.1H165.7M139.9 603.7H165.7"/><path d="M186.6 641.5H212.4M186.6 649.3H212.4M199.5 641.5V649.3"/><path d="M207.3 665.7H233.1M207.3 672.3H233.1M220.2 665.7V672.3"/><path d="M224.1 681.1H249.9M224.1 687.3H249.9M237 681.1V687.3"/><path d="M239 686.8H264.8M239 692H264.8M251.9 686.8V692"/><path d="M254.4 682.3H280.2M254.4 688.3H280.2M267.3 682.3V688.3"/><path d="M269.3 671.1H295.1M269.3 676.7H295.1M282.2 671.1V676.7"/><path d="M284.7 646.6H310.5M284.7 653.2H310.5M297.6 646.6V653.2"/><path d="M301.9 617.8H327.7M301.9 627H327.7"/><path d="M322.1 583.5H347.9M322.1 594.5H347.9"/><path d="M416.2 578.2H442M416.2 589.8H442"/><path d="M436.9 632H462.7M436.9 640.6H462.7"/><path d="M454.2 666H480M454.2 672.4H480M467.1 666V672.4"/><path d="M469.3 682H495.1M469.3 687.6H495.1M482.2 682V687.6"/><path d="M483.7 688.1H509.5M483.7 693.1H509.5M496.6 688.1V693.1"/><path d="M498.6 683.1H524.4M498.6 688.7H524.4M511.5 683.1V688.7"/><path d="M514 669.3H539.8M514 675.3H539.8M526.9 669.3V675.3"/><path d="M531.5 647.6H557.3M531.5 654.4H557.3M544.4 647.6V654.4"/><path d="M551.6 617.6H577.4M551.6 627H577.4"/><path d="M564.8 592.8H590.6M564.8 603.8H590.6"/><path d="M598.1 577.1H623.9M598.1 588.7H623.9"/></g>
<g fill="none" stroke="#0f7f6b" stroke-width="2.9"><circle cx="152.8" cy="598.4" r="6.7"/><circle cx="188.7" cy="629.9" r="6.7"/><circle cx="199.5" cy="645.4" r="6.7"/><circle cx="220.2" cy="669" r="6.7"/><circle cx="237" cy="684.2" r="6.7"/><circle cx="251.9" cy="689.4" r="6.7"/><circle cx="267.3" cy="685.3" r="6.7"/><circle cx="282.2" cy="673.9" r="6.7"/><circle cx="297.6" cy="649.9" r="6.7"/><circle cx="314.8" cy="622.4" r="6.7"/><circle cx="335" cy="589" r="6.7"/><circle cx="429.1" cy="584" r="6.7"/><circle cx="449.8" cy="636.3" r="6.7"/><circle cx="467.1" cy="669.2" r="6.7"/><circle cx="482.2" cy="684.8" r="6.7"/><circle cx="496.6" cy="690.6" r="6.7"/><circle cx="511.5" cy="685.9" r="6.7"/><circle cx="526.9" cy="672.3" r="6.7"/><circle cx="544.4" cy="651" r="6.7"/><circle cx="564.5" cy="622.3" r="6.7"/><circle cx="577.7" cy="598.3" r="6.7"/><circle cx="611" cy="582.9" r="6.7"/></g>
<path d="M152.8 461.9 H611" stroke="#2e6190" stroke-width="2.4" stroke-dasharray="12.3 5.6 2.4 5.56"/>
<g fill="#fff" stroke="#2e6190" stroke-width="2.6"><circle cx="152.8" cy="462" r="5.1"/><circle cx="188.7" cy="462" r="5.1"/><circle cx="199.5" cy="462" r="5.1"/><circle cx="220.2" cy="462" r="5.1"/><circle cx="237" cy="462" r="5.1"/><circle cx="251.9" cy="462" r="5.1"/><circle cx="267.3" cy="462" r="5.1"/><circle cx="282.2" cy="462" r="5.1"/><circle cx="297.6" cy="462" r="5.1"/><circle cx="314.8" cy="462" r="5.1"/><circle cx="335" cy="462" r="5.1"/><circle cx="429.1" cy="462" r="5.1"/><circle cx="449.8" cy="462" r="5.1"/><circle cx="467.1" cy="462" r="5.1"/><circle cx="482.2" cy="462" r="5.1"/><circle cx="496.6" cy="462" r="5.1"/><circle cx="511.5" cy="462" r="5.1"/><circle cx="526.9" cy="462" r="5.1"/><circle cx="544.4" cy="462" r="5.1"/><circle cx="564.5" cy="462" r="5.1"/><circle cx="577.7" cy="462" r="5.1"/><circle cx="611" cy="462" r="5.1"/></g>
<path d="M152.8 464.3 H611" stroke="#9b145a" stroke-width="2.4" stroke-dasharray="12.3 5.6 2.4 5.56"/>
<g fill="#fff" stroke="#9b145a" stroke-width="2.6"><circle cx="152.8" cy="464.2" r="5.1"/><circle cx="188.7" cy="464.2" r="5.1"/><circle cx="199.5" cy="464.2" r="5.1"/><circle cx="220.2" cy="464.2" r="5.1"/><circle cx="237" cy="464.2" r="5.1"/><circle cx="251.9" cy="464.2" r="5.1"/><circle cx="267.3" cy="464.2" r="5.1"/><circle cx="282.2" cy="464.2" r="5.1"/><circle cx="297.6" cy="464.2" r="5.1"/><circle cx="314.8" cy="464.2" r="5.1"/><circle cx="335" cy="464.2" r="5.1"/><circle cx="429.1" cy="464.2" r="5.1"/><circle cx="449.8" cy="464.2" r="5.1"/><circle cx="467.1" cy="464.2" r="5.1"/><circle cx="482.2" cy="464.2" r="5.1"/><circle cx="496.6" cy="464.2" r="5.1"/><circle cx="511.5" cy="464.2" r="5.1"/><circle cx="526.9" cy="464.2" r="5.1"/><circle cx="544.4" cy="464.2" r="5.1"/><circle cx="564.5" cy="464.2" r="5.1"/><circle cx="577.7" cy="464.2" r="5.1"/><circle cx="611" cy="464.2" r="5.1"/></g>
<path d="M144.9 464.3H160.7M152.8 459.6V469M180.8 464.3H196.6M188.7 459.6V469M191.6 464.3H207.4M199.5 459.6V469M212.3 464.3H228.1M220.2 459.6V469M229.1 464.3H244.9M237 459.6V469M244 464.3H259.8M251.9 459.6V469M259.4 464.3H275.2M267.3 459.6V469M274.3 464.3H290.1M282.2 459.6V469M289.7 464.3H305.5M297.6 459.6V469M306.9 464.3H322.7M314.8 459.6V469M327.1 464.3H342.9M335 459.6V469M421.2 464.3H437M429.1 459.6V469M441.9 464.3H457.7M449.8 459.6V469M459.2 464.3H475M467.1 459.6V469M474.3 464.3H490.1M482.2 459.6V469M488.7 464.3H504.5M496.6 459.6V469M503.6 464.3H519.4M511.5 459.6V469M519 464.3H534.8M526.9 459.6V469M536.5 464.3H552.3M544.4 459.6V469M556.6 464.3H572.4M564.5 459.6V469M569.8 464.3H585.6M577.7 459.6V469M603.1 464.3H618.9M611 459.6V469" stroke="#9b145a" stroke-width="1.8"/>
<path d="M90.3 702.3 V425.0 H674.1 V695.8 H90.3" fill="none" stroke="#000" stroke-width="2.2"/>
<line x1="90.3" y1="502.2" x2="674.1" y2="502.2" stroke="#000" stroke-width="2.2" />
<path d="M107.6 439.6H163.6" stroke="#2e6190" stroke-width="2.4" stroke-dasharray="11.7 5.5 2.6 5.5"/>
<circle cx="135.1" cy="439.1" r="4.95" fill="#fff" stroke="#2e6190" stroke-width="2.4"/>
<text transform="translate(169.5,447.5) scale(1,1.0)" text-anchor="start" font-size="24.4" fill="#000" font-weight="normal" >Signal</text>
<path d="M256.6 439.6H312.6" stroke="#9b145a" stroke-width="2.4" stroke-dasharray="11.7 5.5 2.6 5.5"/>
<circle cx="284.3" cy="439.1" r="4.95" fill="#fff" stroke="#9b145a" stroke-width="2.4"/>
<text transform="translate(318,447.5) scale(1,1.0)" text-anchor="start" font-size="24.4" fill="#000" font-weight="normal" >Idler</text>
<circle cx="139.6" cy="524.6" r="6.7" fill="none" stroke="#0f7f6b" stroke-width="3.4"/>
<text transform="translate(169.6,533) scale(1,1.0)" text-anchor="start" font-size="24.4" fill="#000" font-weight="normal" >Measured data</text>
<line x1="356.1" y1="525" x2="412.2" y2="525" stroke="#07775f" stroke-width="2.8" />
<text transform="translate(423.8,533) scale(1,1.0)" text-anchor="start" font-size="24.4" fill="#000" font-weight="normal" >Monte Carlo</text>
</svg></body></html>
